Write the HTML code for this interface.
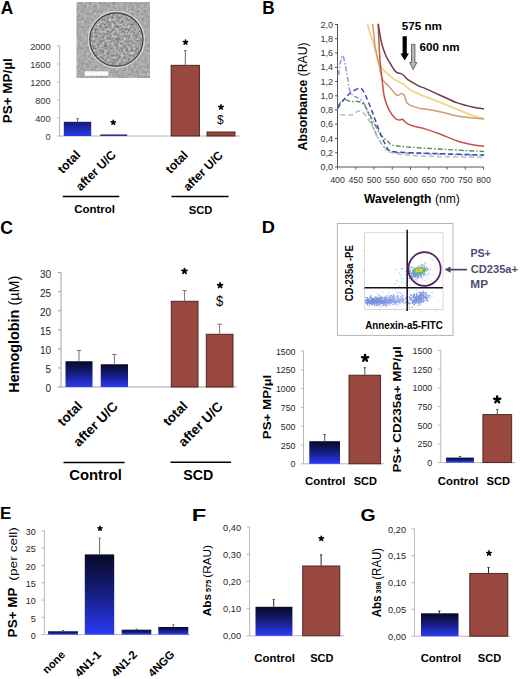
<!DOCTYPE html>
<html><head><meta charset="utf-8"><style>
html,body{margin:0;padding:0;background:#fff;width:520px;height:679px;overflow:hidden;}
svg{display:block;font-family:"Liberation Sans",sans-serif;}
</style></head><body>
<svg width="520" height="679" viewBox="0 0 520 679" font-family="Liberation Sans">
<defs>
<linearGradient id="gb" x1="0" y1="0" x2="0" y2="1"><stop offset="0" stop-color="#070926"/><stop offset="0.45" stop-color="#151c78"/><stop offset="1" stop-color="#2a3af6"/></linearGradient>
<linearGradient id="ga" x1="0" y1="0" x2="0" y2="1"><stop offset="0" stop-color="#141b70"/><stop offset="1" stop-color="#2a3aea"/></linearGradient>
<filter id="noise" x="0" y="0" width="100%" height="100%" color-interpolation-filters="sRGB"><feTurbulence type="fractalNoise" baseFrequency="0.38" numOctaves="2" seed="3"/><feColorMatrix type="matrix" values="0 0 0 0.28 0.52  0 0 0 0.28 0.52  0 0 0 0.28 0.52  0 0 0 0 1"/><feGaussianBlur stdDeviation="0.35"/></filter>
<filter id="noise2" x="0" y="0" width="100%" height="100%" color-interpolation-filters="sRGB"><feTurbulence type="fractalNoise" baseFrequency="0.42" numOctaves="2" seed="11"/><feColorMatrix type="matrix" values="0 0 0 0.6 0.33  0 0 0 0.6 0.33  0 0 0 0.6 0.33  0 0 0 0 1"/><feGaussianBlur stdDeviation="0.3"/></filter>
<clipPath id="mc"><rect x="76.5" y="2" width="73.5" height="76"/></clipPath>
<clipPath id="cc"><circle cx="116.4" cy="39.5" r="26"/></clipPath>
<filter id="blur1"><feGaussianBlur stdDeviation="1.1"/></filter>
<filter id="blur05"><feGaussianBlur stdDeviation="0.6"/></filter>
<filter id="blur03"><feGaussianBlur stdDeviation="0.35"/></filter>
</defs>
<rect width="520" height="679" fill="#fff"/>
<text transform="translate(0.72 13.80) scale(0.940 1)" fill="#000"><tspan font-size="18.33" font-weight="bold">A</tspan></text>
<text transform="translate(262.18 13.70) scale(0.946 1)" fill="#000"><tspan font-size="18.19" font-weight="bold">B</tspan></text>
<text transform="translate(0.20 233.75) scale(0.928 1)" fill="#000"><tspan font-size="18.93" font-weight="bold">C</tspan></text>
<text transform="translate(261.82 233.40) scale(1.056 1)" fill="#000"><tspan font-size="17.25" font-weight="bold">D</tspan></text>
<text transform="translate(-0.10 519.20) scale(1.047 1)" fill="#000"><tspan font-size="16.23" font-weight="bold">E</tspan></text>
<text transform="translate(191.66 520.50) scale(1.516 1)" fill="#000"><tspan font-size="15.65" font-weight="bold">F</tspan></text>
<text transform="translate(360.62 521.20) scale(1.181 1)" fill="#000"><tspan font-size="16.43" font-weight="bold">G</tspan></text>
<g clip-path="url(#mc)">
<rect x="76.5" y="2" width="73.5" height="76" filter="url(#noise)"/>
<circle cx="116.4" cy="39.5" r="27.9" fill="none" stroke="#d4d4d4" stroke-width="1.6"/>
<g clip-path="url(#cc)"><rect x="88" y="11" width="57" height="57" filter="url(#noise2)"/></g>
<circle cx="116.4" cy="39.5" r="26.6" fill="none" stroke="#3c3c3c" stroke-width="1.1"/>
<rect x="84.70" y="71.30" width="23.70" height="4.50" fill="#fafafa" stroke="none" stroke-width="1"/>
</g>
<line x1="59.60" y1="45.50" x2="59.60" y2="136.50" stroke="#b4b4b4" stroke-width="1"/>
<line x1="57.30" y1="46.00" x2="59.60" y2="46.00" stroke="#b4b4b4" stroke-width="1"/>
<text x="50.60" y="49.57" font-size="9.2" text-anchor="end" fill="#333">2000</text>
<line x1="57.30" y1="64.00" x2="59.60" y2="64.00" stroke="#b4b4b4" stroke-width="1"/>
<text x="50.60" y="67.57" font-size="9.2" text-anchor="end" fill="#333">1600</text>
<line x1="57.30" y1="82.00" x2="59.60" y2="82.00" stroke="#b4b4b4" stroke-width="1"/>
<text x="50.60" y="85.57" font-size="9.2" text-anchor="end" fill="#333">1200</text>
<line x1="57.30" y1="100.00" x2="59.60" y2="100.00" stroke="#b4b4b4" stroke-width="1"/>
<text x="50.60" y="103.57" font-size="9.2" text-anchor="end" fill="#333">800</text>
<line x1="57.30" y1="118.00" x2="59.60" y2="118.00" stroke="#b4b4b4" stroke-width="1"/>
<text x="50.60" y="121.57" font-size="9.2" text-anchor="end" fill="#333">400</text>
<line x1="57.30" y1="136.00" x2="59.60" y2="136.00" stroke="#b4b4b4" stroke-width="1"/>
<text x="50.60" y="139.57" font-size="9.2" text-anchor="end" fill="#333">0</text>
<line x1="59.60" y1="136.00" x2="240.00" y2="136.00" stroke="#b4b4b4" stroke-width="1"/>
<rect x="63.80" y="121.80" width="27.40" height="14.20" fill="url(#ga)" stroke="none" stroke-width="1"/>
<line x1="77.50" y1="118.60" x2="77.50" y2="121.80" stroke="#666" stroke-width="1"/>
<line x1="76.30" y1="118.60" x2="78.70" y2="118.60" stroke="#666" stroke-width="1"/>
<rect x="100.20" y="134.40" width="27.00" height="1.60" fill="#2a3499" stroke="none" stroke-width="1"/>
<path d="M113.30,122.40 L113.30,120.20 M113.30,122.40 L115.40,121.72 M113.30,122.40 L114.60,124.18 M113.30,122.40 L112.00,124.18 M113.30,122.40 L111.20,121.72 " stroke="#000" stroke-width="1.57" stroke-linecap="round" fill="none"/>
<rect x="171.10" y="65.30" width="28.30" height="70.70" fill="#99483f" stroke="#42201c" stroke-width="0.9"/>
<line x1="185.30" y1="50.50" x2="185.30" y2="65.30" stroke="#666" stroke-width="1"/>
<line x1="184.10" y1="50.50" x2="186.50" y2="50.50" stroke="#666" stroke-width="1"/>
<path d="M185.50,42.30 L185.50,40.10 M185.50,42.30 L187.60,41.62 M185.50,42.30 L186.80,44.08 M185.50,42.30 L184.20,44.08 M185.50,42.30 L183.40,41.62 " stroke="#000" stroke-width="1.57" stroke-linecap="round" fill="none"/>
<rect x="207.00" y="132.00" width="28.00" height="4.00" fill="#99483f" stroke="#42201c" stroke-width="0.9"/>
<path d="M221.00,107.10 L221.00,104.82 M221.00,107.10 L223.17,106.40 M221.00,107.10 L222.34,108.94 M221.00,107.10 L219.66,108.94 M221.00,107.10 L218.83,106.40 " stroke="#000" stroke-width="1.62" stroke-linecap="round" fill="none"/>
<text transform="translate(216.88 123.90) scale(0.885 1)" fill="#000"><tspan font-size="13.43" font-weight="normal">$</tspan></text>
<text transform="translate(62.63 174.13) rotate(-45)" fill="#000"><tspan font-size="12.37" font-weight="bold">total</tspan></text>
<text transform="translate(80.69 191.42) rotate(-45)" fill="#000"><tspan font-size="12.22" font-weight="bold">after U/C</tspan></text>
<text transform="translate(170.39 174.22) rotate(-45)" fill="#000"><tspan font-size="12.26" font-weight="bold">total</tspan></text>
<text transform="translate(188.16 191.63) rotate(-45)" fill="#000"><tspan font-size="12.08" font-weight="bold">after U/C</tspan></text>
<line x1="62.70" y1="196.50" x2="119.30" y2="196.50" stroke="#000" stroke-width="1.5"/>
<line x1="171.50" y1="196.50" x2="228.50" y2="196.50" stroke="#000" stroke-width="1.5"/>
<text transform="translate(74.24 213.20) scale(1.085 1)" fill="#000"><tspan font-size="10.57" font-weight="bold">Control</tspan></text>
<text transform="translate(188.86 213.50) scale(1.118 1)" fill="#000"><tspan font-size="10.00" font-weight="bold">SCD</tspan></text>
<text transform="translate(11.50 123.28) rotate(-90) scale(1.022 1)" fill="#000"><tspan font-size="13.19" font-weight="bold">PS+ MP/µl</tspan></text>
<line x1="337.50" y1="24.00" x2="337.50" y2="167.00" stroke="#555" stroke-width="1"/>
<line x1="335.00" y1="167.00" x2="337.50" y2="167.00" stroke="#555" stroke-width="1"/>
<text x="333.00" y="170.20" font-size="9" text-anchor="end" fill="#333">0,0</text>
<line x1="335.00" y1="152.75" x2="337.50" y2="152.75" stroke="#555" stroke-width="1"/>
<text x="333.00" y="155.95" font-size="9" text-anchor="end" fill="#333">0,2</text>
<line x1="335.00" y1="138.50" x2="337.50" y2="138.50" stroke="#555" stroke-width="1"/>
<text x="333.00" y="141.70" font-size="9" text-anchor="end" fill="#333">0,4</text>
<line x1="335.00" y1="124.25" x2="337.50" y2="124.25" stroke="#555" stroke-width="1"/>
<text x="333.00" y="127.45" font-size="9" text-anchor="end" fill="#333">0,6</text>
<line x1="335.00" y1="110.00" x2="337.50" y2="110.00" stroke="#555" stroke-width="1"/>
<text x="333.00" y="113.20" font-size="9" text-anchor="end" fill="#333">0,8</text>
<line x1="335.00" y1="95.75" x2="337.50" y2="95.75" stroke="#555" stroke-width="1"/>
<text x="333.00" y="98.95" font-size="9" text-anchor="end" fill="#333">1,0</text>
<line x1="335.00" y1="81.50" x2="337.50" y2="81.50" stroke="#555" stroke-width="1"/>
<text x="333.00" y="84.70" font-size="9" text-anchor="end" fill="#333">1,2</text>
<line x1="335.00" y1="67.25" x2="337.50" y2="67.25" stroke="#555" stroke-width="1"/>
<text x="333.00" y="70.45" font-size="9" text-anchor="end" fill="#333">1,4</text>
<line x1="335.00" y1="53.00" x2="337.50" y2="53.00" stroke="#555" stroke-width="1"/>
<text x="333.00" y="56.20" font-size="9" text-anchor="end" fill="#333">1,6</text>
<line x1="335.00" y1="38.75" x2="337.50" y2="38.75" stroke="#555" stroke-width="1"/>
<text x="333.00" y="41.95" font-size="9" text-anchor="end" fill="#333">1,8</text>
<line x1="335.00" y1="24.50" x2="337.50" y2="24.50" stroke="#555" stroke-width="1"/>
<text x="333.00" y="27.70" font-size="9" text-anchor="end" fill="#333">2,0</text>
<line x1="337.50" y1="167.00" x2="483.50" y2="167.00" stroke="#555" stroke-width="1"/>
<line x1="337.50" y1="167.00" x2="337.50" y2="169.50" stroke="#555" stroke-width="1"/>
<text x="337.50" y="182.80" font-size="8.8" text-anchor="middle" fill="#333">400</text>
<line x1="355.75" y1="167.00" x2="355.75" y2="169.50" stroke="#555" stroke-width="1"/>
<text x="355.75" y="182.80" font-size="8.8" text-anchor="middle" fill="#333">450</text>
<line x1="374.00" y1="167.00" x2="374.00" y2="169.50" stroke="#555" stroke-width="1"/>
<text x="374.00" y="182.80" font-size="8.8" text-anchor="middle" fill="#333">500</text>
<line x1="392.25" y1="167.00" x2="392.25" y2="169.50" stroke="#555" stroke-width="1"/>
<text x="392.25" y="182.80" font-size="8.8" text-anchor="middle" fill="#333">550</text>
<line x1="410.50" y1="167.00" x2="410.50" y2="169.50" stroke="#555" stroke-width="1"/>
<text x="410.50" y="182.80" font-size="8.8" text-anchor="middle" fill="#333">600</text>
<line x1="428.75" y1="167.00" x2="428.75" y2="169.50" stroke="#555" stroke-width="1"/>
<text x="428.75" y="182.80" font-size="8.8" text-anchor="middle" fill="#333">650</text>
<line x1="447.00" y1="167.00" x2="447.00" y2="169.50" stroke="#555" stroke-width="1"/>
<text x="447.00" y="182.80" font-size="8.8" text-anchor="middle" fill="#333">700</text>
<line x1="465.25" y1="167.00" x2="465.25" y2="169.50" stroke="#555" stroke-width="1"/>
<text x="465.25" y="182.80" font-size="8.8" text-anchor="middle" fill="#333">750</text>
<line x1="483.50" y1="167.00" x2="483.50" y2="169.50" stroke="#555" stroke-width="1"/>
<text x="483.50" y="182.80" font-size="8.8" text-anchor="middle" fill="#333">800</text>
<text transform="translate(364.00 203.00) scale(0.961 1)" fill="#000"><tspan font-size="12.61" font-weight="bold">Wavelength</tspan><tspan font-size="12.61" font-weight="normal"> (nm)</tspan></text>
<text transform="translate(306.80 150.41) rotate(-90) scale(0.993 1)" fill="#000"><tspan font-size="12.32" font-weight="bold">Absorbance</tspan><tspan font-size="12.32" font-weight="normal"> (RAU)</tspan></text>
<path d="M367.3,23.8 C367.9,25.8 369.9,32.5 371.0,36.0 C372.1,39.5 372.9,41.8 373.8,45.0 C374.7,48.2 375.7,52.0 376.5,55.0 C377.3,58.0 377.9,60.9 378.6,63.0 C379.4,65.1 380.1,66.2 381.0,67.5 C381.9,68.8 382.1,68.8 384.0,70.5 C385.9,72.2 389.5,75.8 392.1,77.7 C394.7,79.6 397.5,81.0 399.5,82.1 C401.5,83.2 402.2,83.1 403.9,84.3 C405.6,85.5 407.4,87.9 409.8,89.5 C412.2,91.1 416.1,92.7 418.6,93.9 C421.1,95.1 421.2,95.0 425.0,96.5 C428.8,98.0 435.8,100.8 441.2,102.9 C446.6,105.1 452.0,107.2 457.4,109.4 C462.8,111.6 469.2,114.4 473.6,115.9 C478.1,117.5 482.4,118.2 484.1,118.7" fill="none" stroke="#eed88a" stroke-width="1.9" stroke-linejoin="round" opacity="1"/>
<path d="M372.5,23.8 C372.8,25.8 373.6,32.1 374.0,36.0 C374.4,39.9 374.6,43.3 375.2,47.0 C375.8,50.7 376.8,54.7 377.5,58.0 C378.2,61.3 378.9,64.2 379.5,67.0 C380.1,69.8 380.6,72.7 381.2,75.0 C381.8,77.3 382.0,78.7 383.3,80.6 C384.6,82.5 387.2,84.3 389.2,86.5 C391.2,88.7 393.6,92.4 395.1,93.9 C396.6,95.4 396.9,95.5 398.0,95.4 C399.1,95.4 400.6,93.5 401.7,93.6 C402.8,93.7 403.7,94.6 404.6,96.1 C405.5,97.6 405.5,101.1 406.9,102.8 C408.3,104.5 410.4,105.4 412.8,106.4 C415.2,107.4 419.6,108.3 421.6,108.7 C423.6,109.1 421.7,108.5 425.0,109.0 C428.3,109.5 435.8,110.8 441.2,111.9 C446.6,113.1 452.0,114.9 457.4,115.9 C462.8,116.9 469.2,117.5 473.6,118.0 C478.1,118.5 482.4,118.9 484.1,119.1" fill="none" stroke="#d39a70" stroke-width="1.5" stroke-linejoin="round" opacity="1"/>
<path d="M378.2,23.8 C378.4,27.3 378.8,39.0 379.1,45.0 C379.4,51.0 379.6,55.0 380.0,60.0 C380.4,65.0 381.1,70.8 381.5,75.0 C381.9,79.2 382.2,81.1 382.7,85.0 C383.2,88.9 383.6,94.1 384.7,98.3 C385.8,102.5 387.5,106.8 389.2,110.1 C390.9,113.4 393.4,116.5 395.1,118.2 C396.8,119.9 398.3,119.9 399.5,120.1 C400.7,120.3 401.2,118.8 402.4,119.3 C403.6,119.8 404.9,122.2 406.9,123.4 C408.9,124.6 411.2,125.4 414.2,126.3 C417.2,127.2 420.5,127.5 425.0,128.9 C429.5,130.3 435.8,132.5 441.2,134.5 C446.6,136.5 452.0,139.2 457.4,141.0 C462.8,142.8 469.2,144.2 473.6,145.1 C478.1,146.0 482.4,146.0 484.1,146.2" fill="none" stroke="#c4524a" stroke-width="1.5" stroke-linejoin="round" opacity="1"/>
<path d="M378.2,23.8 C378.5,25.7 379.4,31.5 380.0,35.0 C380.6,38.5 381.1,41.5 382.1,45.0 C383.1,48.5 384.7,53.0 386.0,56.0 C387.3,59.0 388.6,60.6 390.0,63.0 C391.4,65.4 393.3,68.7 394.5,70.3 C395.7,71.9 396.2,72.2 397.3,72.8 C398.4,73.3 399.9,73.1 401.0,73.6 C402.1,74.0 402.7,74.5 403.9,75.5 C405.1,76.5 405.9,78.2 408.3,79.9 C410.8,81.6 415.8,84.4 418.6,85.8 C421.4,87.2 421.2,86.8 425.0,88.4 C428.8,90.1 435.8,93.3 441.2,95.7 C446.6,98.1 452.0,101.0 457.4,102.9 C462.8,104.8 469.2,106.3 473.6,107.3 C478.1,108.3 482.4,108.6 484.1,108.9" fill="none" stroke="#723a40" stroke-width="1.5" stroke-linejoin="round" opacity="1"/>
<path d="M338.5,75.0 C338.8,72.8 339.8,65.2 340.5,62.0 C341.2,58.8 342.1,55.3 342.9,55.6 C343.6,55.9 344.2,60.5 345.0,64.0 C345.8,67.5 346.6,72.3 347.4,76.8 C348.2,81.3 348.8,87.7 350.0,90.9 C351.2,94.1 352.7,94.9 354.4,96.2 C356.1,97.5 358.2,97.5 360.0,99.0 C361.8,100.5 363.3,101.7 365.0,105.0 C366.7,108.3 368.2,113.8 370.3,119.1 C372.4,124.4 375.0,132.1 377.4,136.8 C379.8,141.5 382.3,145.0 384.4,147.3 C386.4,149.7 387.9,150.0 389.7,150.9 C391.5,151.8 389.9,152.1 395.0,152.5 C400.1,152.9 410.8,153.2 420.0,153.5 C429.2,153.8 439.3,154.2 450.0,154.5 C460.7,154.8 478.3,155.3 484.0,155.5" fill="none" stroke="#8c9ad6" stroke-width="1.5" stroke-dasharray="5,2,1.5,2" stroke-linejoin="round" opacity="1"/>
<path d="M340.3,114.7 C342.4,114.7 349.7,115.3 352.6,114.7 C355.5,114.1 356.1,111.5 357.9,111.2 C359.7,110.9 361.1,111.0 363.2,112.9 C365.3,114.8 367.9,118.6 370.3,122.6 C372.7,126.6 375.0,132.7 377.4,136.8 C379.8,140.9 382.0,144.7 384.4,147.3 C386.8,149.9 385.6,151.2 391.5,152.6 C397.4,154.0 404.6,155.2 420.0,156.0 C435.4,156.8 473.3,157.2 484.0,157.5" fill="none" stroke="#b4c4a4" stroke-width="1.5" stroke-dasharray="5,3" stroke-linejoin="round" opacity="1"/>
<path d="M337.6,106.0 C338.6,105.0 341.6,100.5 343.8,99.7 C346.0,99.0 348.5,101.2 350.9,101.5 C353.2,101.8 355.8,101.1 357.9,101.5 C359.9,101.9 361.4,102.3 363.2,104.1 C365.0,105.9 366.7,109.0 368.5,112.1 C370.3,115.2 371.7,118.8 373.8,122.6 C375.9,126.4 378.5,131.9 380.9,135.0 C383.2,138.1 385.6,139.4 387.9,141.2 C390.2,143.0 387.9,144.4 394.9,145.6 C401.9,146.8 415.1,147.5 430.0,148.5 C444.9,149.5 475.0,151.0 484.0,151.5" fill="none" stroke="#5a8a5a" stroke-width="1.4" stroke-dasharray="5,2,1.5,2" stroke-linejoin="round" opacity="1"/>
<path d="M337.6,108.5 C338.6,107.0 341.6,102.4 343.8,99.7 C346.0,97.0 348.2,94.5 350.9,92.6 C353.5,90.7 357.5,88.2 359.7,88.2 C361.9,88.2 362.3,89.5 364.1,92.6 C365.9,95.7 368.4,102.1 370.3,106.8 C372.2,111.5 373.8,116.2 375.6,120.9 C377.4,125.6 379.1,130.9 380.9,135.0 C382.7,139.1 384.3,142.8 386.2,145.6 C388.1,148.3 386.4,150.3 392.0,151.5 C397.6,152.7 410.3,152.6 420.0,153.0 C429.7,153.4 439.3,153.7 450.0,154.0 C460.7,154.3 478.3,154.8 484.0,155.0" fill="none" stroke="#3a4ab8" stroke-width="1.5" stroke-dasharray="5,3" stroke-linejoin="round" opacity="1"/>
<text transform="translate(401.65 29.90) scale(1.092 1)" fill="#000"><tspan font-size="10.72" font-weight="bold">575 nm</tspan></text>
<text transform="translate(419.49 50.90) scale(1.072 1)" fill="#000"><tspan font-size="10.86" font-weight="bold">600 nm</tspan></text>
<path d="M402.6,36.3 L406.8,36.3 L406.8,53.5 L408.9,53.5 L404.7,60.6 L400.5,53.5 L402.6,53.5 Z" fill="#000"/>
<path d="M411.5,44.4 L414.9,44.4 L414.9,62.5 L416.8,62.5 L413.2,69.5 L409.6,62.5 L411.5,62.5 Z" fill="#b8b8b8" stroke="#4a4a4a" stroke-width="0.8"/>
<line x1="61.00" y1="272.50" x2="61.00" y2="387.00" stroke="#a0a0a0" stroke-width="1"/>
<line x1="57.80" y1="272.60" x2="61.00" y2="272.60" stroke="#a0a0a0" stroke-width="1"/>
<text x="51.00" y="277.55" font-size="10" text-anchor="end" fill="#222">30</text>
<line x1="57.80" y1="291.67" x2="61.00" y2="291.67" stroke="#a0a0a0" stroke-width="1"/>
<text x="51.00" y="296.62" font-size="10" text-anchor="end" fill="#222">25</text>
<line x1="57.80" y1="310.74" x2="61.00" y2="310.74" stroke="#a0a0a0" stroke-width="1"/>
<text x="51.00" y="315.69" font-size="10" text-anchor="end" fill="#222">20</text>
<line x1="57.80" y1="329.81" x2="61.00" y2="329.81" stroke="#a0a0a0" stroke-width="1"/>
<text x="51.00" y="334.76" font-size="10" text-anchor="end" fill="#222">15</text>
<line x1="57.80" y1="348.88" x2="61.00" y2="348.88" stroke="#a0a0a0" stroke-width="1"/>
<text x="51.00" y="353.83" font-size="10" text-anchor="end" fill="#222">10</text>
<line x1="57.80" y1="367.95" x2="61.00" y2="367.95" stroke="#a0a0a0" stroke-width="1"/>
<text x="51.00" y="372.90" font-size="10" text-anchor="end" fill="#222">5</text>
<line x1="57.80" y1="387.02" x2="61.00" y2="387.02" stroke="#a0a0a0" stroke-width="1"/>
<text x="51.00" y="391.97" font-size="10" text-anchor="end" fill="#222">0</text>
<line x1="61.00" y1="387.00" x2="236.50" y2="387.00" stroke="#a0a0a0" stroke-width="1"/>
<rect x="65.50" y="361.25" width="27.00" height="25.75" fill="url(#gb)" stroke="none" stroke-width="1"/>
<line x1="79.00" y1="350.50" x2="79.00" y2="361.25" stroke="#777" stroke-width="1"/>
<line x1="76.80" y1="350.50" x2="81.20" y2="350.50" stroke="#777" stroke-width="1"/>
<rect x="100.75" y="364.25" width="27.25" height="22.75" fill="url(#gb)" stroke="none" stroke-width="1"/>
<line x1="114.40" y1="354.50" x2="114.40" y2="364.25" stroke="#777" stroke-width="1"/>
<line x1="112.20" y1="354.50" x2="116.60" y2="354.50" stroke="#777" stroke-width="1"/>
<rect x="171.25" y="301.25" width="26.75" height="85.75" fill="#99483f" stroke="#42201c" stroke-width="0.9"/>
<line x1="184.60" y1="290.60" x2="184.60" y2="301.25" stroke="#777" stroke-width="1"/>
<line x1="182.40" y1="290.60" x2="186.80" y2="290.60" stroke="#777" stroke-width="1"/>
<rect x="206.25" y="334.25" width="26.75" height="52.75" fill="#99483f" stroke="#42201c" stroke-width="0.9"/>
<line x1="219.60" y1="324.25" x2="219.60" y2="334.25" stroke="#777" stroke-width="1"/>
<line x1="217.40" y1="324.25" x2="221.80" y2="324.25" stroke="#777" stroke-width="1"/>
<path d="M184.50,271.20 L184.50,268.62 M184.50,271.20 L186.96,270.40 M184.50,271.20 L186.02,273.29 M184.50,271.20 L182.98,273.29 M184.50,271.20 L182.04,270.40 " stroke="#000" stroke-width="1.84" stroke-linecap="round" fill="none"/>
<path d="M220.10,285.50 L220.10,282.99 M220.10,285.50 L222.49,284.72 M220.10,285.50 L221.57,287.53 M220.10,285.50 L218.63,287.53 M220.10,285.50 L217.71,284.72 " stroke="#000" stroke-width="1.78" stroke-linecap="round" fill="none"/>
<text transform="translate(216.07 305.60) scale(0.844 1)" fill="#000"><tspan font-size="15.43" font-weight="normal">$</tspan></text>
<text transform="translate(63.11 426.92) rotate(-45)" fill="#000"><tspan font-size="13.44" font-weight="bold">total</tspan></text>
<text transform="translate(78.82 447.40) rotate(-45)" fill="#000"><tspan font-size="13.57" font-weight="bold">after U/C</tspan></text>
<text transform="translate(168.44 426.78) rotate(-45)" fill="#000"><tspan font-size="13.30" font-weight="bold">total</tspan></text>
<text transform="translate(183.82 447.40) rotate(-45)" fill="#000"><tspan font-size="13.57" font-weight="bold">after U/C</tspan></text>
<line x1="63.50" y1="462.50" x2="124.60" y2="462.50" stroke="#000" stroke-width="1.6"/>
<line x1="170.50" y1="462.30" x2="231.10" y2="462.30" stroke="#000" stroke-width="1.6"/>
<text transform="translate(69.21 479.80) scale(1.036 1)" fill="#000"><tspan font-size="14.29" font-weight="bold">Control</tspan></text>
<text transform="translate(183.37 479.90) scale(1.015 1)" fill="#000"><tspan font-size="14.00" font-weight="bold">SCD</tspan></text>
<text transform="translate(18.90 392.74) rotate(-90) scale(0.965 1)" fill="#000"><tspan font-size="14.93" font-weight="bold">Hemoglobin</tspan><tspan font-size="14.93" font-weight="normal"> (µM)</tspan></text>
<rect x="337.40" y="223.50" width="115.60" height="111.90" fill="#fff" stroke="#b4b4b4" stroke-width="1"/>
<rect x="364.60" y="232.70" width="78.40" height="76.80" fill="#fff" stroke="#cfcfcf" stroke-width="0.8"/>
<line x1="362.60" y1="251.00" x2="364.60" y2="251.00" stroke="#bbb" stroke-width="0.6"/>
<line x1="362.60" y1="270.00" x2="364.60" y2="270.00" stroke="#bbb" stroke-width="0.6"/>
<line x1="362.60" y1="289.00" x2="364.60" y2="289.00" stroke="#bbb" stroke-width="0.6"/>
<line x1="380.00" y1="309.50" x2="380.00" y2="311.30" stroke="#bbb" stroke-width="0.6"/>
<line x1="395.00" y1="309.50" x2="395.00" y2="311.30" stroke="#bbb" stroke-width="0.6"/>
<line x1="420.00" y1="309.50" x2="420.00" y2="311.30" stroke="#bbb" stroke-width="0.6"/>
<line x1="435.00" y1="309.50" x2="435.00" y2="311.30" stroke="#bbb" stroke-width="0.6"/>
<g opacity="0.7" filter="url(#blur03)"><circle cx="378.7" cy="301.8" r="0.65" fill="#4a6ad8"/><circle cx="379.0" cy="300.2" r="0.65" fill="#4a6ad8"/><circle cx="372.6" cy="300.4" r="0.65" fill="#4a6ad8"/><circle cx="391.0" cy="301.6" r="0.65" fill="#4a6ad8"/><circle cx="390.3" cy="301.3" r="0.65" fill="#4a6ad8"/><circle cx="384.6" cy="301.2" r="0.65" fill="#4a6ad8"/><circle cx="366.0" cy="302.5" r="0.65" fill="#4a6ad8"/><circle cx="385.6" cy="301.8" r="0.65" fill="#4a6ad8"/><circle cx="365.8" cy="297.3" r="0.65" fill="#4a6ad8"/><circle cx="373.0" cy="299.9" r="0.65" fill="#4a6ad8"/><circle cx="383.7" cy="300.7" r="0.65" fill="#4a6ad8"/><circle cx="385.7" cy="299.5" r="0.65" fill="#4a6ad8"/><circle cx="383.8" cy="301.6" r="0.65" fill="#4a6ad8"/><circle cx="375.0" cy="304.2" r="0.65" fill="#4a6ad8"/><circle cx="386.0" cy="303.2" r="0.65" fill="#4a6ad8"/><circle cx="375.4" cy="299.3" r="0.65" fill="#4a6ad8"/><circle cx="377.9" cy="300.6" r="0.65" fill="#4a6ad8"/><circle cx="386.7" cy="301.3" r="0.65" fill="#4a6ad8"/><circle cx="377.0" cy="298.9" r="0.65" fill="#4a6ad8"/><circle cx="376.3" cy="303.2" r="0.65" fill="#4a6ad8"/><circle cx="373.7" cy="301.3" r="0.65" fill="#4a6ad8"/><circle cx="384.8" cy="297.8" r="0.65" fill="#4a6ad8"/><circle cx="381.4" cy="303.4" r="0.65" fill="#4a6ad8"/><circle cx="380.0" cy="299.2" r="0.65" fill="#4a6ad8"/><circle cx="385.5" cy="300.7" r="0.65" fill="#4a6ad8"/><circle cx="367.8" cy="302.5" r="0.65" fill="#4a6ad8"/><circle cx="387.0" cy="302.7" r="0.65" fill="#4a6ad8"/><circle cx="394.0" cy="301.5" r="0.65" fill="#4a6ad8"/><circle cx="382.1" cy="298.2" r="0.65" fill="#4a6ad8"/><circle cx="386.5" cy="299.6" r="0.65" fill="#4a6ad8"/><circle cx="376.9" cy="298.3" r="0.65" fill="#4a6ad8"/><circle cx="372.3" cy="299.7" r="0.65" fill="#4a6ad8"/><circle cx="392.6" cy="296.7" r="0.65" fill="#4a6ad8"/><circle cx="367.9" cy="301.3" r="0.65" fill="#4a6ad8"/><circle cx="394.0" cy="302.0" r="0.65" fill="#4a6ad8"/><circle cx="384.2" cy="299.3" r="0.65" fill="#4a6ad8"/><circle cx="370.9" cy="302.8" r="0.65" fill="#4a6ad8"/><circle cx="390.9" cy="301.1" r="0.65" fill="#4a6ad8"/><circle cx="383.2" cy="301.7" r="0.65" fill="#4a6ad8"/><circle cx="395.3" cy="302.0" r="0.65" fill="#4a6ad8"/><circle cx="385.7" cy="301.9" r="0.65" fill="#4a6ad8"/><circle cx="366.9" cy="303.4" r="0.65" fill="#4a6ad8"/><circle cx="389.6" cy="301.9" r="0.65" fill="#4a6ad8"/><circle cx="388.6" cy="297.2" r="0.65" fill="#4a6ad8"/><circle cx="379.3" cy="302.8" r="0.65" fill="#4a6ad8"/><circle cx="369.2" cy="304.0" r="0.65" fill="#4a6ad8"/><circle cx="386.0" cy="300.5" r="0.65" fill="#4a6ad8"/><circle cx="383.9" cy="302.1" r="0.65" fill="#4a6ad8"/><circle cx="382.1" cy="303.1" r="0.65" fill="#4a6ad8"/><circle cx="375.0" cy="300.0" r="0.65" fill="#4a6ad8"/><circle cx="390.4" cy="300.9" r="0.65" fill="#4a6ad8"/><circle cx="373.1" cy="302.7" r="0.65" fill="#4a6ad8"/><circle cx="394.2" cy="299.9" r="0.65" fill="#4a6ad8"/><circle cx="368.6" cy="300.5" r="0.65" fill="#4a6ad8"/><circle cx="379.7" cy="300.2" r="0.65" fill="#4a6ad8"/><circle cx="393.6" cy="298.7" r="0.65" fill="#4a6ad8"/><circle cx="392.3" cy="298.3" r="0.65" fill="#4a6ad8"/><circle cx="373.9" cy="302.1" r="0.65" fill="#4a6ad8"/><circle cx="391.2" cy="302.5" r="0.65" fill="#4a6ad8"/><circle cx="384.1" cy="301.1" r="0.65" fill="#4a6ad8"/><circle cx="382.4" cy="302.0" r="0.65" fill="#4a6ad8"/><circle cx="379.4" cy="301.4" r="0.65" fill="#4a6ad8"/><circle cx="386.2" cy="300.8" r="0.65" fill="#4a6ad8"/><circle cx="387.9" cy="301.9" r="0.65" fill="#4a6ad8"/><circle cx="399.1" cy="301.4" r="0.65" fill="#4a6ad8"/><circle cx="377.2" cy="300.1" r="0.65" fill="#4a6ad8"/><circle cx="380.9" cy="302.6" r="0.65" fill="#4a6ad8"/><circle cx="378.0" cy="301.6" r="0.65" fill="#4a6ad8"/><circle cx="397.5" cy="295.7" r="0.65" fill="#4a6ad8"/><circle cx="370.9" cy="301.3" r="0.65" fill="#4a6ad8"/><circle cx="384.6" cy="301.3" r="0.65" fill="#4a6ad8"/><circle cx="377.1" cy="302.1" r="0.65" fill="#4a6ad8"/><circle cx="383.5" cy="299.8" r="0.65" fill="#4a6ad8"/><circle cx="402.9" cy="301.5" r="0.65" fill="#4a6ad8"/><circle cx="376.0" cy="300.6" r="0.65" fill="#4a6ad8"/><circle cx="379.0" cy="300.7" r="0.65" fill="#4a6ad8"/><circle cx="390.1" cy="298.5" r="0.65" fill="#4a6ad8"/><circle cx="380.4" cy="302.7" r="0.65" fill="#4a6ad8"/><circle cx="388.7" cy="303.8" r="0.65" fill="#4a6ad8"/><circle cx="365.7" cy="300.1" r="0.65" fill="#4a6ad8"/><circle cx="377.9" cy="302.0" r="0.65" fill="#4a6ad8"/><circle cx="390.8" cy="295.4" r="0.65" fill="#4a6ad8"/><circle cx="390.8" cy="297.9" r="0.65" fill="#4a6ad8"/><circle cx="387.1" cy="297.8" r="0.65" fill="#4a6ad8"/><circle cx="382.6" cy="303.2" r="0.65" fill="#4a6ad8"/><circle cx="379.7" cy="301.2" r="0.65" fill="#4a6ad8"/><circle cx="388.2" cy="301.1" r="0.65" fill="#4a6ad8"/><circle cx="380.2" cy="303.9" r="0.65" fill="#4a6ad8"/><circle cx="390.4" cy="300.2" r="0.65" fill="#4a6ad8"/><circle cx="405.7" cy="298.5" r="0.65" fill="#4a6ad8"/><circle cx="389.2" cy="300.3" r="0.65" fill="#4a6ad8"/><circle cx="382.2" cy="302.2" r="0.65" fill="#4a6ad8"/><circle cx="383.0" cy="302.1" r="0.65" fill="#4a6ad8"/><circle cx="367.3" cy="297.8" r="0.65" fill="#4a6ad8"/><circle cx="386.5" cy="298.9" r="0.65" fill="#4a6ad8"/><circle cx="371.8" cy="297.9" r="0.65" fill="#4a6ad8"/><circle cx="392.4" cy="302.3" r="0.65" fill="#4a6ad8"/><circle cx="394.3" cy="298.9" r="0.65" fill="#4a6ad8"/><circle cx="381.0" cy="298.5" r="0.65" fill="#4a6ad8"/><circle cx="387.9" cy="304.0" r="0.65" fill="#4a6ad8"/><circle cx="373.0" cy="303.9" r="0.65" fill="#4a6ad8"/><circle cx="389.9" cy="300.4" r="0.65" fill="#4a6ad8"/><circle cx="380.1" cy="299.6" r="0.65" fill="#4a6ad8"/><circle cx="384.6" cy="301.6" r="0.65" fill="#4a6ad8"/><circle cx="394.5" cy="298.8" r="0.65" fill="#4a6ad8"/><circle cx="391.2" cy="303.8" r="0.65" fill="#4a6ad8"/><circle cx="394.1" cy="300.4" r="0.65" fill="#4a6ad8"/><circle cx="374.3" cy="302.8" r="0.65" fill="#4a6ad8"/><circle cx="382.0" cy="301.0" r="0.65" fill="#4a6ad8"/><circle cx="393.8" cy="300.3" r="0.65" fill="#4a6ad8"/><circle cx="383.9" cy="299.6" r="0.65" fill="#4a6ad8"/><circle cx="380.9" cy="302.5" r="0.65" fill="#4a6ad8"/><circle cx="381.7" cy="303.5" r="0.65" fill="#4a6ad8"/><circle cx="380.4" cy="302.9" r="0.65" fill="#4a6ad8"/><circle cx="394.4" cy="304.0" r="0.65" fill="#4a6ad8"/><circle cx="375.0" cy="302.6" r="0.65" fill="#4a6ad8"/><circle cx="369.9" cy="300.8" r="0.65" fill="#4a6ad8"/><circle cx="379.3" cy="300.7" r="0.65" fill="#4a6ad8"/><circle cx="375.7" cy="301.3" r="0.65" fill="#4a6ad8"/><circle cx="397.1" cy="300.9" r="0.65" fill="#4a6ad8"/><circle cx="385.8" cy="302.8" r="0.65" fill="#4a6ad8"/><circle cx="379.2" cy="298.3" r="0.65" fill="#4a6ad8"/><circle cx="376.0" cy="302.9" r="0.65" fill="#4a6ad8"/><circle cx="366.2" cy="299.6" r="0.65" fill="#4a6ad8"/><circle cx="390.1" cy="302.4" r="0.65" fill="#4a6ad8"/><circle cx="381.1" cy="302.4" r="0.65" fill="#4a6ad8"/><circle cx="382.5" cy="298.4" r="0.65" fill="#4a6ad8"/><circle cx="366.9" cy="299.5" r="0.65" fill="#4a6ad8"/><circle cx="389.3" cy="299.7" r="0.65" fill="#4a6ad8"/><circle cx="372.9" cy="299.3" r="0.65" fill="#4a6ad8"/><circle cx="367.2" cy="300.6" r="0.65" fill="#4a6ad8"/><circle cx="370.4" cy="301.5" r="0.65" fill="#4a6ad8"/><circle cx="375.2" cy="296.9" r="0.65" fill="#4a6ad8"/><circle cx="387.5" cy="300.2" r="0.65" fill="#4a6ad8"/><circle cx="383.6" cy="299.9" r="0.65" fill="#4a6ad8"/><circle cx="388.0" cy="302.3" r="0.65" fill="#4a6ad8"/><circle cx="387.0" cy="301.5" r="0.65" fill="#4a6ad8"/><circle cx="393.0" cy="302.1" r="0.65" fill="#4a6ad8"/><circle cx="385.1" cy="296.6" r="0.65" fill="#4a6ad8"/><circle cx="389.1" cy="303.4" r="0.65" fill="#4a6ad8"/><circle cx="378.3" cy="299.9" r="0.65" fill="#4a6ad8"/><circle cx="398.5" cy="297.3" r="0.65" fill="#4a6ad8"/><circle cx="385.2" cy="305.6" r="0.65" fill="#4a6ad8"/><circle cx="372.7" cy="302.2" r="0.65" fill="#4a6ad8"/><circle cx="398.0" cy="300.6" r="0.65" fill="#4a6ad8"/><circle cx="386.1" cy="302.6" r="0.65" fill="#4a6ad8"/><circle cx="372.8" cy="300.6" r="0.65" fill="#4a6ad8"/><circle cx="383.6" cy="302.5" r="0.65" fill="#4a6ad8"/><circle cx="380.7" cy="300.4" r="0.65" fill="#4a6ad8"/><circle cx="371.9" cy="300.1" r="0.65" fill="#4a6ad8"/><circle cx="389.0" cy="301.0" r="0.65" fill="#4a6ad8"/><circle cx="373.3" cy="299.1" r="0.65" fill="#4a6ad8"/><circle cx="405.0" cy="303.1" r="0.65" fill="#4a6ad8"/><circle cx="386.7" cy="295.6" r="0.65" fill="#4a6ad8"/><circle cx="386.6" cy="301.8" r="0.65" fill="#4a6ad8"/><circle cx="396.2" cy="301.7" r="0.65" fill="#4a6ad8"/><circle cx="380.4" cy="301.8" r="0.65" fill="#4a6ad8"/><circle cx="383.9" cy="299.4" r="0.65" fill="#4a6ad8"/><circle cx="392.9" cy="304.4" r="0.65" fill="#4a6ad8"/><circle cx="368.4" cy="299.5" r="0.65" fill="#4a6ad8"/><circle cx="383.6" cy="301.2" r="0.65" fill="#4a6ad8"/><circle cx="377.4" cy="298.9" r="0.65" fill="#4a6ad8"/><circle cx="400.1" cy="302.9" r="0.65" fill="#4a6ad8"/><circle cx="370.3" cy="298.1" r="0.65" fill="#4a6ad8"/><circle cx="396.3" cy="302.8" r="0.65" fill="#4a6ad8"/><circle cx="397.4" cy="302.4" r="0.65" fill="#4a6ad8"/><circle cx="373.2" cy="301.3" r="0.65" fill="#4a6ad8"/><circle cx="380.5" cy="301.8" r="0.65" fill="#4a6ad8"/><circle cx="374.5" cy="300.6" r="0.65" fill="#4a6ad8"/><circle cx="385.1" cy="301.6" r="0.65" fill="#4a6ad8"/><circle cx="386.7" cy="301.2" r="0.65" fill="#4a6ad8"/><circle cx="378.1" cy="302.4" r="0.65" fill="#4a6ad8"/><circle cx="381.4" cy="299.1" r="0.65" fill="#4a6ad8"/><circle cx="375.4" cy="300.8" r="0.65" fill="#4a6ad8"/><circle cx="380.0" cy="301.1" r="0.65" fill="#4a6ad8"/><circle cx="381.0" cy="301.2" r="0.65" fill="#4a6ad8"/><circle cx="379.8" cy="298.3" r="0.65" fill="#4a6ad8"/><circle cx="384.8" cy="302.9" r="0.65" fill="#4a6ad8"/><circle cx="384.9" cy="300.4" r="0.65" fill="#4a6ad8"/><circle cx="385.0" cy="298.9" r="0.65" fill="#4a6ad8"/><circle cx="372.6" cy="302.3" r="0.65" fill="#4a6ad8"/><circle cx="371.2" cy="295.5" r="0.65" fill="#4a6ad8"/><circle cx="371.6" cy="304.0" r="0.65" fill="#4a6ad8"/><circle cx="377.6" cy="298.1" r="0.65" fill="#4a6ad8"/><circle cx="374.1" cy="301.8" r="0.65" fill="#4a6ad8"/><circle cx="385.5" cy="301.2" r="0.65" fill="#4a6ad8"/><circle cx="394.4" cy="302.2" r="0.65" fill="#4a6ad8"/><circle cx="380.8" cy="302.0" r="0.65" fill="#4a6ad8"/><circle cx="395.9" cy="302.7" r="0.65" fill="#4a6ad8"/><circle cx="390.2" cy="298.6" r="0.65" fill="#4a6ad8"/><circle cx="379.7" cy="302.3" r="0.65" fill="#4a6ad8"/><circle cx="378.3" cy="302.9" r="0.65" fill="#4a6ad8"/><circle cx="386.4" cy="302.6" r="0.65" fill="#4a6ad8"/><circle cx="379.1" cy="305.9" r="0.65" fill="#4a6ad8"/><circle cx="392.2" cy="300.4" r="0.65" fill="#4a6ad8"/><circle cx="381.8" cy="306.0" r="0.65" fill="#4a6ad8"/><circle cx="377.9" cy="302.5" r="0.65" fill="#4a6ad8"/><circle cx="389.8" cy="300.8" r="0.65" fill="#4a6ad8"/><circle cx="370.5" cy="301.2" r="0.65" fill="#4a6ad8"/><circle cx="384.2" cy="303.1" r="0.65" fill="#4a6ad8"/><circle cx="388.0" cy="300.8" r="0.65" fill="#4a6ad8"/><circle cx="388.7" cy="301.9" r="0.65" fill="#4a6ad8"/><circle cx="382.9" cy="300.9" r="0.65" fill="#4a6ad8"/><circle cx="378.8" cy="302.2" r="0.65" fill="#4a6ad8"/><circle cx="371.5" cy="299.5" r="0.65" fill="#4a6ad8"/><circle cx="381.0" cy="297.9" r="0.65" fill="#4a6ad8"/><circle cx="377.1" cy="296.8" r="0.65" fill="#4a6ad8"/><circle cx="374.9" cy="301.9" r="0.65" fill="#4a6ad8"/><circle cx="386.1" cy="300.7" r="0.65" fill="#4a6ad8"/><circle cx="378.9" cy="298.0" r="0.65" fill="#4a6ad8"/><circle cx="397.5" cy="301.8" r="0.65" fill="#4a6ad8"/><circle cx="390.8" cy="299.0" r="0.65" fill="#4a6ad8"/><circle cx="379.3" cy="297.2" r="0.65" fill="#4a6ad8"/><circle cx="388.0" cy="302.7" r="0.65" fill="#4a6ad8"/><circle cx="386.7" cy="297.3" r="0.65" fill="#4a6ad8"/><circle cx="375.3" cy="298.0" r="0.65" fill="#4a6ad8"/><circle cx="381.3" cy="301.3" r="0.65" fill="#4a6ad8"/><circle cx="386.7" cy="302.2" r="0.65" fill="#4a6ad8"/><circle cx="394.5" cy="303.1" r="0.65" fill="#4a6ad8"/><circle cx="369.2" cy="299.8" r="0.65" fill="#4a6ad8"/><circle cx="371.5" cy="298.6" r="0.65" fill="#4a6ad8"/><circle cx="380.3" cy="300.8" r="0.65" fill="#4a6ad8"/><circle cx="385.4" cy="297.6" r="0.65" fill="#4a6ad8"/><circle cx="369.9" cy="300.8" r="0.65" fill="#4a6ad8"/><circle cx="379.2" cy="300.2" r="0.65" fill="#4a6ad8"/><circle cx="380.4" cy="299.3" r="0.65" fill="#4a6ad8"/><circle cx="387.3" cy="301.5" r="0.65" fill="#4a6ad8"/><circle cx="380.2" cy="299.5" r="0.65" fill="#4a6ad8"/><circle cx="379.4" cy="295.4" r="0.65" fill="#4a6ad8"/><circle cx="372.2" cy="300.9" r="0.65" fill="#4a6ad8"/><circle cx="367.5" cy="301.2" r="0.65" fill="#4a6ad8"/><circle cx="382.3" cy="298.0" r="0.65" fill="#4a6ad8"/><circle cx="378.7" cy="300.2" r="0.65" fill="#4a6ad8"/><circle cx="385.1" cy="302.0" r="0.65" fill="#4a6ad8"/><circle cx="380.7" cy="299.1" r="0.65" fill="#4a6ad8"/><circle cx="379.7" cy="300.7" r="0.65" fill="#4a6ad8"/><circle cx="387.6" cy="301.4" r="0.65" fill="#4a6ad8"/><circle cx="374.5" cy="298.1" r="0.65" fill="#4a6ad8"/><circle cx="377.6" cy="299.3" r="0.65" fill="#4a6ad8"/><circle cx="371.0" cy="300.6" r="0.65" fill="#4a6ad8"/><circle cx="376.6" cy="301.0" r="0.65" fill="#4a6ad8"/><circle cx="385.7" cy="300.0" r="0.65" fill="#4a6ad8"/><circle cx="401.9" cy="300.2" r="0.65" fill="#4a6ad8"/><circle cx="390.9" cy="301.0" r="0.65" fill="#4a6ad8"/><circle cx="391.0" cy="296.0" r="0.65" fill="#4a6ad8"/><circle cx="374.2" cy="301.3" r="0.65" fill="#4a6ad8"/><circle cx="386.4" cy="305.5" r="0.65" fill="#4a6ad8"/><circle cx="383.9" cy="303.4" r="0.65" fill="#4a6ad8"/><circle cx="387.9" cy="302.7" r="0.65" fill="#4a6ad8"/><circle cx="385.6" cy="300.5" r="0.65" fill="#4a6ad8"/><circle cx="385.6" cy="298.6" r="0.65" fill="#4a6ad8"/><circle cx="391.6" cy="298.8" r="0.65" fill="#4a6ad8"/><circle cx="383.2" cy="305.0" r="0.65" fill="#4a6ad8"/><circle cx="379.0" cy="300.8" r="0.65" fill="#4a6ad8"/><circle cx="391.5" cy="300.9" r="0.65" fill="#4a6ad8"/><circle cx="373.7" cy="301.3" r="0.65" fill="#4a6ad8"/><circle cx="386.2" cy="302.2" r="0.65" fill="#4a6ad8"/><circle cx="374.0" cy="304.3" r="0.65" fill="#4a6ad8"/><circle cx="396.0" cy="300.8" r="0.65" fill="#4a6ad8"/><circle cx="383.4" cy="299.9" r="0.65" fill="#4a6ad8"/><circle cx="393.7" cy="299.4" r="0.65" fill="#4a6ad8"/><circle cx="387.1" cy="299.8" r="0.65" fill="#4a6ad8"/><circle cx="374.8" cy="302.2" r="0.65" fill="#4a6ad8"/><circle cx="393.0" cy="300.8" r="0.65" fill="#4a6ad8"/><circle cx="374.9" cy="302.4" r="0.65" fill="#4a6ad8"/><circle cx="380.6" cy="301.4" r="0.65" fill="#4a6ad8"/><circle cx="394.7" cy="303.1" r="0.65" fill="#4a6ad8"/><circle cx="376.3" cy="305.4" r="0.65" fill="#4a6ad8"/><circle cx="381.0" cy="302.4" r="0.65" fill="#4a6ad8"/><circle cx="375.2" cy="300.7" r="0.65" fill="#4a6ad8"/><circle cx="393.3" cy="298.4" r="0.65" fill="#4a6ad8"/><circle cx="367.5" cy="297.6" r="0.65" fill="#4a6ad8"/><circle cx="391.6" cy="299.9" r="0.65" fill="#4a6ad8"/><circle cx="380.5" cy="300.2" r="0.65" fill="#4a6ad8"/><circle cx="379.9" cy="298.6" r="0.65" fill="#4a6ad8"/><circle cx="381.2" cy="297.9" r="0.65" fill="#4a6ad8"/><circle cx="380.4" cy="301.4" r="0.65" fill="#4a6ad8"/><circle cx="385.2" cy="300.3" r="0.65" fill="#4a6ad8"/><circle cx="372.9" cy="301.1" r="0.65" fill="#4a6ad8"/><circle cx="376.6" cy="303.9" r="0.65" fill="#4a6ad8"/><circle cx="387.9" cy="300.6" r="0.65" fill="#4a6ad8"/><circle cx="376.8" cy="299.4" r="0.65" fill="#4a6ad8"/><circle cx="372.6" cy="300.1" r="0.65" fill="#4a6ad8"/><circle cx="383.7" cy="301.8" r="0.65" fill="#4a6ad8"/><circle cx="386.1" cy="305.0" r="0.65" fill="#4a6ad8"/><circle cx="374.7" cy="300.8" r="0.65" fill="#4a6ad8"/><circle cx="406.2" cy="297.1" r="0.65" fill="#4a6ad8"/><circle cx="376.3" cy="301.1" r="0.65" fill="#4a6ad8"/><circle cx="382.4" cy="301.6" r="0.65" fill="#4a6ad8"/><circle cx="378.9" cy="301.5" r="0.65" fill="#4a6ad8"/><circle cx="381.5" cy="302.3" r="0.65" fill="#4a6ad8"/><circle cx="381.0" cy="298.7" r="0.65" fill="#4a6ad8"/><circle cx="371.6" cy="302.1" r="0.65" fill="#4a6ad8"/><circle cx="375.2" cy="302.1" r="0.65" fill="#4a6ad8"/><circle cx="387.7" cy="301.4" r="0.65" fill="#4a6ad8"/><circle cx="385.6" cy="300.6" r="0.65" fill="#4a6ad8"/><circle cx="368.3" cy="300.7" r="0.65" fill="#4a6ad8"/><circle cx="385.1" cy="299.7" r="0.65" fill="#4a6ad8"/><circle cx="380.1" cy="302.3" r="0.65" fill="#4a6ad8"/><circle cx="373.1" cy="302.1" r="0.65" fill="#4a6ad8"/><circle cx="397.8" cy="299.7" r="0.65" fill="#4a6ad8"/><circle cx="382.3" cy="300.5" r="0.65" fill="#4a6ad8"/><circle cx="394.9" cy="301.4" r="0.65" fill="#4a6ad8"/><circle cx="389.1" cy="299.4" r="0.65" fill="#4a6ad8"/><circle cx="380.9" cy="300.8" r="0.65" fill="#4a6ad8"/><circle cx="389.1" cy="297.3" r="0.65" fill="#4a6ad8"/><circle cx="387.7" cy="300.5" r="0.65" fill="#4a6ad8"/><circle cx="385.0" cy="301.5" r="0.65" fill="#4a6ad8"/><circle cx="367.5" cy="300.4" r="0.65" fill="#4a6ad8"/><circle cx="394.4" cy="299.7" r="0.65" fill="#4a6ad8"/><circle cx="371.8" cy="298.1" r="0.65" fill="#4a6ad8"/><circle cx="370.0" cy="301.5" r="0.65" fill="#4a6ad8"/><circle cx="396.2" cy="301.7" r="0.65" fill="#4a6ad8"/><circle cx="383.2" cy="305.3" r="0.65" fill="#4a6ad8"/><circle cx="376.3" cy="299.5" r="0.65" fill="#4a6ad8"/><circle cx="385.8" cy="301.9" r="0.65" fill="#4a6ad8"/><circle cx="371.9" cy="298.5" r="0.65" fill="#4a6ad8"/><circle cx="383.6" cy="301.3" r="0.65" fill="#4a6ad8"/><circle cx="369.2" cy="300.4" r="0.65" fill="#4a6ad8"/><circle cx="376.1" cy="301.7" r="0.65" fill="#4a6ad8"/><circle cx="379.9" cy="300.6" r="0.65" fill="#4a6ad8"/><circle cx="377.8" cy="302.9" r="0.65" fill="#4a6ad8"/><circle cx="393.5" cy="300.1" r="0.65" fill="#4a6ad8"/><circle cx="388.6" cy="299.3" r="0.65" fill="#4a6ad8"/><circle cx="381.6" cy="302.3" r="0.65" fill="#4a6ad8"/><circle cx="394.6" cy="300.0" r="0.65" fill="#4a6ad8"/><circle cx="380.3" cy="301.2" r="0.65" fill="#4a6ad8"/><circle cx="367.5" cy="300.8" r="0.65" fill="#4a6ad8"/><circle cx="374.9" cy="301.5" r="0.65" fill="#4a6ad8"/><circle cx="370.8" cy="296.8" r="0.65" fill="#4a6ad8"/><circle cx="381.3" cy="301.3" r="0.65" fill="#4a6ad8"/><circle cx="376.1" cy="302.6" r="0.65" fill="#4a6ad8"/><circle cx="378.5" cy="299.6" r="0.65" fill="#4a6ad8"/><circle cx="385.3" cy="297.7" r="0.65" fill="#4a6ad8"/><circle cx="374.9" cy="300.8" r="0.65" fill="#4a6ad8"/><circle cx="388.6" cy="300.5" r="0.65" fill="#4a6ad8"/><circle cx="383.8" cy="299.5" r="0.65" fill="#4a6ad8"/><circle cx="383.7" cy="304.1" r="0.65" fill="#4a6ad8"/><circle cx="374.8" cy="305.5" r="0.65" fill="#4a6ad8"/><circle cx="375.2" cy="300.8" r="0.65" fill="#4a6ad8"/><circle cx="382.6" cy="302.8" r="0.65" fill="#4a6ad8"/><circle cx="369.9" cy="296.6" r="0.65" fill="#4a6ad8"/><circle cx="386.5" cy="302.4" r="0.65" fill="#4a6ad8"/><circle cx="386.6" cy="306.1" r="0.65" fill="#4a6ad8"/><circle cx="382.8" cy="301.3" r="0.65" fill="#4a6ad8"/><circle cx="389.4" cy="301.5" r="0.65" fill="#4a6ad8"/><circle cx="396.0" cy="298.3" r="0.65" fill="#4a6ad8"/><circle cx="377.6" cy="293.9" r="0.65" fill="#4a6ad8"/><circle cx="388.3" cy="300.1" r="0.65" fill="#4a6ad8"/><circle cx="389.3" cy="305.1" r="0.65" fill="#4a6ad8"/><circle cx="380.9" cy="300.3" r="0.65" fill="#4a6ad8"/><circle cx="376.5" cy="299.1" r="0.65" fill="#4a6ad8"/><circle cx="375.3" cy="302.1" r="0.65" fill="#4a6ad8"/><circle cx="381.3" cy="300.9" r="0.65" fill="#4a6ad8"/><circle cx="379.4" cy="302.6" r="0.65" fill="#4a6ad8"/><circle cx="385.4" cy="300.5" r="0.65" fill="#4a6ad8"/><circle cx="387.0" cy="300.5" r="0.65" fill="#4a6ad8"/><circle cx="370.6" cy="303.7" r="0.65" fill="#4a6ad8"/><circle cx="385.2" cy="298.9" r="0.65" fill="#4a6ad8"/><circle cx="390.7" cy="301.5" r="0.65" fill="#4a6ad8"/><circle cx="366.9" cy="304.0" r="0.65" fill="#4a6ad8"/><circle cx="384.0" cy="302.6" r="0.65" fill="#4a6ad8"/><circle cx="382.8" cy="300.5" r="0.65" fill="#4a6ad8"/><circle cx="367.1" cy="302.7" r="0.65" fill="#4a6ad8"/><circle cx="381.3" cy="300.2" r="0.65" fill="#4a6ad8"/><circle cx="384.2" cy="301.0" r="0.65" fill="#4a6ad8"/><circle cx="387.1" cy="300.1" r="0.65" fill="#4a6ad8"/><circle cx="380.7" cy="296.5" r="0.65" fill="#4a6ad8"/><circle cx="377.2" cy="302.2" r="0.65" fill="#4a6ad8"/><circle cx="393.0" cy="300.1" r="0.65" fill="#4a6ad8"/><circle cx="379.9" cy="304.0" r="0.65" fill="#4a6ad8"/><circle cx="378.1" cy="302.3" r="0.65" fill="#4a6ad8"/><circle cx="396.1" cy="300.9" r="0.65" fill="#4a6ad8"/><circle cx="392.0" cy="299.4" r="0.65" fill="#4a6ad8"/><circle cx="382.9" cy="300.6" r="0.65" fill="#4a6ad8"/><circle cx="382.0" cy="303.1" r="0.65" fill="#4a6ad8"/><circle cx="402.5" cy="299.5" r="0.65" fill="#4a6ad8"/><circle cx="375.8" cy="301.8" r="0.65" fill="#4a6ad8"/><circle cx="371.5" cy="301.8" r="0.65" fill="#4a6ad8"/><circle cx="386.1" cy="300.2" r="0.65" fill="#4a6ad8"/><circle cx="385.8" cy="297.7" r="0.65" fill="#4a6ad8"/><circle cx="387.8" cy="297.7" r="0.65" fill="#4a6ad8"/><circle cx="374.7" cy="299.7" r="0.65" fill="#4a6ad8"/><circle cx="377.4" cy="302.5" r="0.65" fill="#4a6ad8"/><circle cx="381.7" cy="300.0" r="0.65" fill="#4a6ad8"/><circle cx="385.9" cy="304.0" r="0.65" fill="#4a6ad8"/><circle cx="381.1" cy="301.5" r="0.65" fill="#4a6ad8"/><circle cx="392.2" cy="301.3" r="0.65" fill="#4a6ad8"/><circle cx="369.4" cy="305.8" r="0.65" fill="#4a6ad8"/><circle cx="400.9" cy="296.8" r="0.65" fill="#4a6ad8"/><circle cx="380.6" cy="301.6" r="0.65" fill="#4a6ad8"/><circle cx="389.7" cy="302.1" r="0.65" fill="#4a6ad8"/><circle cx="378.6" cy="298.7" r="0.65" fill="#4a6ad8"/><circle cx="381.9" cy="302.9" r="0.65" fill="#4a6ad8"/><circle cx="371.2" cy="298.7" r="0.65" fill="#4a6ad8"/><circle cx="380.8" cy="296.9" r="0.65" fill="#4a6ad8"/><circle cx="378.7" cy="299.9" r="0.65" fill="#4a6ad8"/><circle cx="385.1" cy="299.4" r="0.65" fill="#4a6ad8"/><circle cx="373.1" cy="300.0" r="0.65" fill="#4a6ad8"/><circle cx="380.6" cy="299.5" r="0.65" fill="#4a6ad8"/><circle cx="381.1" cy="302.3" r="0.65" fill="#4a6ad8"/><circle cx="377.9" cy="304.2" r="0.65" fill="#3f60d2"/><circle cx="368.1" cy="300.8" r="0.65" fill="#3f60d2"/><circle cx="368.4" cy="301.4" r="0.65" fill="#3f60d2"/><circle cx="374.6" cy="299.3" r="0.65" fill="#3f60d2"/><circle cx="374.3" cy="301.5" r="0.65" fill="#3f60d2"/><circle cx="378.0" cy="298.5" r="0.65" fill="#3f60d2"/><circle cx="376.0" cy="301.8" r="0.65" fill="#3f60d2"/><circle cx="374.4" cy="302.2" r="0.65" fill="#3f60d2"/><circle cx="378.5" cy="301.1" r="0.65" fill="#3f60d2"/><circle cx="376.4" cy="300.8" r="0.65" fill="#3f60d2"/><circle cx="375.6" cy="300.2" r="0.65" fill="#3f60d2"/><circle cx="371.5" cy="304.3" r="0.65" fill="#3f60d2"/><circle cx="374.2" cy="301.2" r="0.65" fill="#3f60d2"/><circle cx="366.3" cy="300.2" r="0.65" fill="#3f60d2"/><circle cx="373.0" cy="303.0" r="0.65" fill="#3f60d2"/><circle cx="374.1" cy="302.3" r="0.65" fill="#3f60d2"/><circle cx="371.8" cy="303.7" r="0.65" fill="#3f60d2"/><circle cx="370.0" cy="300.6" r="0.65" fill="#3f60d2"/><circle cx="376.4" cy="301.6" r="0.65" fill="#3f60d2"/><circle cx="370.6" cy="300.6" r="0.65" fill="#3f60d2"/><circle cx="370.7" cy="302.5" r="0.65" fill="#3f60d2"/><circle cx="373.8" cy="299.6" r="0.65" fill="#3f60d2"/><circle cx="374.1" cy="301.8" r="0.65" fill="#3f60d2"/><circle cx="367.0" cy="302.7" r="0.65" fill="#3f60d2"/><circle cx="370.6" cy="301.0" r="0.65" fill="#3f60d2"/><circle cx="376.0" cy="303.6" r="0.65" fill="#3f60d2"/><circle cx="368.6" cy="302.2" r="0.65" fill="#3f60d2"/><circle cx="367.6" cy="305.2" r="0.65" fill="#3f60d2"/><circle cx="369.5" cy="303.4" r="0.65" fill="#3f60d2"/><circle cx="368.8" cy="302.8" r="0.65" fill="#3f60d2"/><circle cx="383.1" cy="297.4" r="0.65" fill="#3f60d2"/><circle cx="369.8" cy="302.3" r="0.65" fill="#3f60d2"/><circle cx="371.5" cy="300.4" r="0.65" fill="#3f60d2"/><circle cx="382.8" cy="301.6" r="0.65" fill="#3f60d2"/><circle cx="369.1" cy="301.7" r="0.65" fill="#3f60d2"/><circle cx="378.3" cy="301.7" r="0.65" fill="#3f60d2"/><circle cx="377.9" cy="302.7" r="0.65" fill="#3f60d2"/><circle cx="367.9" cy="302.9" r="0.65" fill="#3f60d2"/><circle cx="374.5" cy="302.5" r="0.65" fill="#3f60d2"/><circle cx="376.5" cy="302.7" r="0.65" fill="#3f60d2"/><circle cx="376.4" cy="297.6" r="0.65" fill="#3f60d2"/><circle cx="372.8" cy="302.3" r="0.65" fill="#3f60d2"/><circle cx="384.8" cy="300.0" r="0.65" fill="#3f60d2"/><circle cx="370.4" cy="301.6" r="0.65" fill="#3f60d2"/><circle cx="376.4" cy="300.8" r="0.65" fill="#3f60d2"/><circle cx="377.7" cy="300.2" r="0.65" fill="#3f60d2"/><circle cx="373.3" cy="300.7" r="0.65" fill="#3f60d2"/><circle cx="372.8" cy="300.4" r="0.65" fill="#3f60d2"/><circle cx="373.5" cy="300.6" r="0.65" fill="#3f60d2"/><circle cx="373.0" cy="303.1" r="0.65" fill="#3f60d2"/><circle cx="367.1" cy="301.3" r="0.65" fill="#3f60d2"/><circle cx="374.7" cy="302.3" r="0.65" fill="#3f60d2"/><circle cx="370.3" cy="298.1" r="0.65" fill="#3f60d2"/><circle cx="378.2" cy="302.0" r="0.65" fill="#3f60d2"/><circle cx="372.1" cy="301.1" r="0.65" fill="#3f60d2"/><circle cx="373.3" cy="300.8" r="0.65" fill="#3f60d2"/><circle cx="366.9" cy="300.3" r="0.65" fill="#3f60d2"/><circle cx="369.0" cy="300.5" r="0.65" fill="#3f60d2"/><circle cx="366.2" cy="302.5" r="0.65" fill="#3f60d2"/><circle cx="365.5" cy="302.6" r="0.65" fill="#3f60d2"/><circle cx="366.9" cy="302.1" r="0.65" fill="#3f60d2"/><circle cx="378.9" cy="301.8" r="0.65" fill="#3f60d2"/><circle cx="368.3" cy="301.6" r="0.65" fill="#3f60d2"/><circle cx="372.7" cy="298.7" r="0.65" fill="#3f60d2"/><circle cx="369.0" cy="301.8" r="0.65" fill="#3f60d2"/><circle cx="369.7" cy="301.6" r="0.65" fill="#3f60d2"/><circle cx="375.7" cy="302.7" r="0.65" fill="#3f60d2"/><circle cx="376.5" cy="302.4" r="0.65" fill="#3f60d2"/><circle cx="370.6" cy="301.5" r="0.65" fill="#3f60d2"/><circle cx="370.6" cy="301.0" r="0.65" fill="#3f60d2"/><circle cx="371.1" cy="298.7" r="0.65" fill="#3f60d2"/><circle cx="370.3" cy="301.5" r="0.65" fill="#3f60d2"/><circle cx="367.1" cy="301.5" r="0.65" fill="#3f60d2"/><circle cx="374.6" cy="301.2" r="0.65" fill="#3f60d2"/><circle cx="382.4" cy="297.3" r="0.65" fill="#3f60d2"/><circle cx="371.0" cy="298.6" r="0.65" fill="#3f60d2"/><circle cx="376.9" cy="305.7" r="0.65" fill="#3f60d2"/><circle cx="374.6" cy="301.0" r="0.65" fill="#3f60d2"/><circle cx="374.8" cy="297.9" r="0.65" fill="#3f60d2"/><circle cx="376.3" cy="302.1" r="0.65" fill="#3f60d2"/><circle cx="372.1" cy="300.6" r="0.65" fill="#3f60d2"/><circle cx="375.2" cy="300.7" r="0.65" fill="#3f60d2"/><circle cx="373.1" cy="300.7" r="0.65" fill="#3f60d2"/><circle cx="373.0" cy="302.7" r="0.65" fill="#3f60d2"/><circle cx="367.6" cy="301.4" r="0.65" fill="#3f60d2"/><circle cx="375.1" cy="301.7" r="0.65" fill="#3f60d2"/><circle cx="378.2" cy="304.7" r="0.65" fill="#3f60d2"/><circle cx="367.5" cy="298.4" r="0.65" fill="#3f60d2"/><circle cx="376.3" cy="303.9" r="0.65" fill="#3f60d2"/><circle cx="376.6" cy="302.8" r="0.65" fill="#3f60d2"/><circle cx="368.9" cy="300.4" r="0.65" fill="#3f60d2"/><circle cx="376.4" cy="300.0" r="0.65" fill="#3f60d2"/><circle cx="384.5" cy="304.6" r="0.65" fill="#3f60d2"/><circle cx="368.6" cy="300.3" r="0.65" fill="#3f60d2"/><circle cx="373.2" cy="300.3" r="0.65" fill="#3f60d2"/><circle cx="378.6" cy="301.4" r="0.65" fill="#3f60d2"/><circle cx="366.6" cy="303.6" r="0.65" fill="#3f60d2"/><circle cx="369.1" cy="301.9" r="0.65" fill="#3f60d2"/><circle cx="371.9" cy="301.0" r="0.65" fill="#3f60d2"/><circle cx="373.6" cy="300.4" r="0.65" fill="#3f60d2"/><circle cx="365.7" cy="300.3" r="0.65" fill="#3f60d2"/><circle cx="371.9" cy="301.6" r="0.65" fill="#3f60d2"/><circle cx="374.8" cy="301.7" r="0.65" fill="#3f60d2"/><circle cx="368.0" cy="300.4" r="0.65" fill="#3f60d2"/><circle cx="374.4" cy="302.3" r="0.65" fill="#3f60d2"/><circle cx="371.4" cy="301.2" r="0.65" fill="#3f60d2"/><circle cx="376.7" cy="301.5" r="0.65" fill="#3f60d2"/><circle cx="375.7" cy="302.4" r="0.65" fill="#3f60d2"/><circle cx="373.1" cy="303.6" r="0.65" fill="#3f60d2"/><circle cx="369.1" cy="300.9" r="0.65" fill="#3f60d2"/><circle cx="368.0" cy="300.2" r="0.65" fill="#3f60d2"/><circle cx="379.8" cy="304.3" r="0.65" fill="#3f60d2"/><circle cx="372.1" cy="302.4" r="0.65" fill="#3f60d2"/><circle cx="377.9" cy="302.8" r="0.65" fill="#3f60d2"/><circle cx="378.0" cy="299.5" r="0.65" fill="#3f60d2"/><circle cx="368.8" cy="302.2" r="0.65" fill="#3f60d2"/><circle cx="379.2" cy="301.7" r="0.65" fill="#3f60d2"/><circle cx="367.7" cy="300.9" r="0.65" fill="#3f60d2"/><circle cx="368.7" cy="300.1" r="0.65" fill="#3f60d2"/><circle cx="379.5" cy="300.5" r="0.65" fill="#3f60d2"/><circle cx="372.1" cy="305.0" r="0.65" fill="#3f60d2"/><circle cx="377.9" cy="302.0" r="0.65" fill="#3f60d2"/><circle cx="368.9" cy="302.2" r="0.65" fill="#3f60d2"/><circle cx="380.1" cy="302.5" r="0.65" fill="#3f60d2"/><circle cx="378.3" cy="301.7" r="0.65" fill="#3f60d2"/><circle cx="374.6" cy="301.2" r="0.65" fill="#3f60d2"/><circle cx="374.1" cy="303.6" r="0.65" fill="#3f60d2"/><circle cx="373.2" cy="300.6" r="0.65" fill="#3f60d2"/><circle cx="370.5" cy="302.8" r="0.65" fill="#3f60d2"/><circle cx="382.0" cy="302.5" r="0.65" fill="#3f60d2"/><circle cx="373.6" cy="299.0" r="0.65" fill="#3f60d2"/><circle cx="381.6" cy="301.6" r="0.65" fill="#3f60d2"/><circle cx="371.8" cy="299.7" r="0.65" fill="#3f60d2"/><circle cx="371.7" cy="299.7" r="0.65" fill="#3f60d2"/><circle cx="372.4" cy="302.2" r="0.65" fill="#3f60d2"/><circle cx="372.2" cy="301.9" r="0.65" fill="#3f60d2"/><circle cx="367.7" cy="303.8" r="0.65" fill="#3f60d2"/><circle cx="368.7" cy="298.6" r="0.65" fill="#3f60d2"/><circle cx="371.1" cy="300.3" r="0.65" fill="#3f60d2"/><circle cx="367.0" cy="300.9" r="0.65" fill="#3f60d2"/><circle cx="373.5" cy="299.6" r="0.65" fill="#3f60d2"/><circle cx="371.3" cy="303.8" r="0.65" fill="#3f60d2"/><circle cx="375.4" cy="301.3" r="0.65" fill="#3f60d2"/><circle cx="372.6" cy="301.3" r="0.65" fill="#3f60d2"/><circle cx="371.8" cy="302.7" r="0.65" fill="#3f60d2"/><circle cx="371.5" cy="297.7" r="0.65" fill="#3f60d2"/><circle cx="371.9" cy="300.1" r="0.65" fill="#3f60d2"/><circle cx="400.9" cy="298.0" r="0.65" fill="#6a88e2"/><circle cx="397.9" cy="304.7" r="0.65" fill="#6a88e2"/><circle cx="390.7" cy="296.8" r="0.65" fill="#6a88e2"/><circle cx="388.5" cy="293.8" r="0.65" fill="#6a88e2"/><circle cx="385.7" cy="300.4" r="0.65" fill="#6a88e2"/><circle cx="393.2" cy="295.0" r="0.65" fill="#6a88e2"/><circle cx="388.1" cy="301.0" r="0.65" fill="#6a88e2"/><circle cx="392.3" cy="298.6" r="0.65" fill="#6a88e2"/><circle cx="399.0" cy="302.8" r="0.65" fill="#6a88e2"/><circle cx="408.6" cy="302.0" r="0.65" fill="#6a88e2"/><circle cx="397.9" cy="299.9" r="0.65" fill="#6a88e2"/><circle cx="407.8" cy="302.9" r="0.65" fill="#6a88e2"/><circle cx="395.1" cy="300.6" r="0.65" fill="#6a88e2"/><circle cx="398.7" cy="299.6" r="0.65" fill="#6a88e2"/><circle cx="394.0" cy="296.3" r="0.65" fill="#6a88e2"/><circle cx="393.8" cy="295.8" r="0.65" fill="#6a88e2"/><circle cx="404.3" cy="300.8" r="0.65" fill="#6a88e2"/><circle cx="389.8" cy="302.8" r="0.65" fill="#6a88e2"/><circle cx="402.4" cy="294.9" r="0.65" fill="#6a88e2"/><circle cx="408.0" cy="301.4" r="0.65" fill="#6a88e2"/><circle cx="409.4" cy="296.5" r="0.65" fill="#6a88e2"/><circle cx="400.2" cy="300.5" r="0.65" fill="#6a88e2"/><circle cx="398.2" cy="299.9" r="0.65" fill="#6a88e2"/><circle cx="403.3" cy="295.9" r="0.65" fill="#6a88e2"/><circle cx="389.5" cy="296.2" r="0.65" fill="#6a88e2"/><circle cx="393.7" cy="298.0" r="0.65" fill="#6a88e2"/><circle cx="399.2" cy="300.1" r="0.65" fill="#6a88e2"/><circle cx="397.2" cy="297.9" r="0.65" fill="#6a88e2"/><circle cx="394.3" cy="301.8" r="0.65" fill="#6a88e2"/><circle cx="401.6" cy="299.7" r="0.65" fill="#6a88e2"/><circle cx="395.1" cy="303.2" r="0.65" fill="#6a88e2"/><circle cx="393.4" cy="301.1" r="0.65" fill="#6a88e2"/><circle cx="403.9" cy="298.9" r="0.65" fill="#6a88e2"/><circle cx="402.0" cy="296.8" r="0.65" fill="#6a88e2"/><circle cx="403.1" cy="300.0" r="0.65" fill="#6a88e2"/><circle cx="387.5" cy="301.1" r="0.65" fill="#6a88e2"/><circle cx="391.6" cy="302.6" r="0.65" fill="#6a88e2"/><circle cx="392.9" cy="299.1" r="0.65" fill="#6a88e2"/><circle cx="398.7" cy="298.7" r="0.65" fill="#6a88e2"/><circle cx="398.6" cy="298.2" r="0.65" fill="#6a88e2"/><circle cx="401.0" cy="299.5" r="0.65" fill="#6a88e2"/><circle cx="398.3" cy="292.9" r="0.65" fill="#6a88e2"/><circle cx="404.0" cy="299.6" r="0.65" fill="#6a88e2"/><circle cx="386.3" cy="299.7" r="0.65" fill="#6a88e2"/><circle cx="399.8" cy="302.1" r="0.65" fill="#6a88e2"/><circle cx="390.5" cy="303.2" r="0.65" fill="#6a88e2"/><circle cx="396.0" cy="305.2" r="0.65" fill="#6a88e2"/><circle cx="396.1" cy="301.1" r="0.65" fill="#6a88e2"/><circle cx="394.8" cy="296.8" r="0.65" fill="#6a88e2"/><circle cx="403.6" cy="301.7" r="0.65" fill="#6a88e2"/><circle cx="406.2" cy="301.6" r="0.65" fill="#6a88e2"/><circle cx="393.6" cy="295.5" r="0.65" fill="#6a88e2"/><circle cx="393.1" cy="297.9" r="0.65" fill="#6a88e2"/><circle cx="392.1" cy="300.9" r="0.65" fill="#6a88e2"/><circle cx="399.0" cy="298.9" r="0.65" fill="#6a88e2"/><circle cx="398.0" cy="299.2" r="0.65" fill="#6a88e2"/><circle cx="398.3" cy="301.3" r="0.65" fill="#6a88e2"/><circle cx="402.8" cy="297.9" r="0.65" fill="#6a88e2"/><circle cx="388.0" cy="302.9" r="0.65" fill="#6a88e2"/><circle cx="397.7" cy="302.2" r="0.65" fill="#6a88e2"/><circle cx="387.1" cy="298.7" r="0.65" fill="#6a88e2"/><circle cx="397.2" cy="296.0" r="0.65" fill="#6a88e2"/><circle cx="393.9" cy="301.2" r="0.65" fill="#6a88e2"/><circle cx="403.5" cy="303.3" r="0.65" fill="#6a88e2"/><circle cx="391.8" cy="296.1" r="0.65" fill="#6a88e2"/><circle cx="400.1" cy="301.8" r="0.65" fill="#6a88e2"/><circle cx="398.2" cy="296.4" r="0.65" fill="#6a88e2"/><circle cx="401.7" cy="301.4" r="0.65" fill="#6a88e2"/><circle cx="400.3" cy="298.3" r="0.65" fill="#6a88e2"/><circle cx="398.8" cy="301.4" r="0.65" fill="#6a88e2"/><circle cx="393.6" cy="295.1" r="0.65" fill="#6a88e2"/><circle cx="399.0" cy="300.7" r="0.65" fill="#6a88e2"/><circle cx="397.1" cy="301.6" r="0.65" fill="#6a88e2"/><circle cx="393.5" cy="299.3" r="0.65" fill="#6a88e2"/><circle cx="395.2" cy="300.9" r="0.65" fill="#6a88e2"/><circle cx="406.6" cy="298.9" r="0.65" fill="#6a88e2"/><circle cx="409.3" cy="303.2" r="0.65" fill="#6a88e2"/><circle cx="401.7" cy="300.9" r="0.65" fill="#6a88e2"/><circle cx="407.6" cy="299.1" r="0.65" fill="#6a88e2"/><circle cx="396.3" cy="296.9" r="0.65" fill="#6a88e2"/><circle cx="399.8" cy="302.7" r="0.65" fill="#6a88e2"/><circle cx="400.2" cy="300.5" r="0.65" fill="#6a88e2"/><circle cx="395.8" cy="299.9" r="0.65" fill="#6a88e2"/><circle cx="388.4" cy="302.0" r="0.65" fill="#6a88e2"/><circle cx="394.5" cy="296.8" r="0.65" fill="#6a88e2"/><circle cx="392.5" cy="297.5" r="0.65" fill="#6a88e2"/><circle cx="402.1" cy="302.0" r="0.65" fill="#6a88e2"/><circle cx="388.9" cy="301.7" r="0.65" fill="#6a88e2"/><circle cx="402.3" cy="298.1" r="0.65" fill="#6a88e2"/><circle cx="388.1" cy="297.7" r="0.65" fill="#6a88e2"/><circle cx="415.6" cy="300.3" r="0.65" fill="#4a6cd8"/><circle cx="416.9" cy="293.5" r="0.65" fill="#4a6cd8"/><circle cx="419.6" cy="294.1" r="0.65" fill="#4a6cd8"/><circle cx="422.6" cy="294.0" r="0.65" fill="#4a6cd8"/><circle cx="415.4" cy="297.1" r="0.65" fill="#4a6cd8"/><circle cx="416.1" cy="302.7" r="0.65" fill="#4a6cd8"/><circle cx="422.3" cy="299.0" r="0.65" fill="#4a6cd8"/><circle cx="419.9" cy="293.9" r="0.65" fill="#4a6cd8"/><circle cx="416.2" cy="297.7" r="0.65" fill="#4a6cd8"/><circle cx="414.1" cy="301.2" r="0.65" fill="#4a6cd8"/><circle cx="415.2" cy="297.6" r="0.65" fill="#4a6cd8"/><circle cx="413.8" cy="294.4" r="0.65" fill="#4a6cd8"/><circle cx="421.2" cy="301.3" r="0.65" fill="#4a6cd8"/><circle cx="419.3" cy="295.6" r="0.65" fill="#4a6cd8"/><circle cx="406.3" cy="302.6" r="0.65" fill="#4a6cd8"/><circle cx="424.0" cy="297.7" r="0.65" fill="#4a6cd8"/><circle cx="422.7" cy="301.2" r="0.65" fill="#4a6cd8"/><circle cx="423.6" cy="295.8" r="0.65" fill="#4a6cd8"/><circle cx="423.2" cy="299.2" r="0.65" fill="#4a6cd8"/><circle cx="411.6" cy="299.5" r="0.65" fill="#4a6cd8"/><circle cx="412.1" cy="300.1" r="0.65" fill="#4a6cd8"/><circle cx="421.1" cy="294.9" r="0.65" fill="#4a6cd8"/><circle cx="409.2" cy="304.8" r="0.65" fill="#4a6cd8"/><circle cx="420.2" cy="301.9" r="0.65" fill="#4a6cd8"/><circle cx="412.5" cy="303.1" r="0.65" fill="#4a6cd8"/><circle cx="427.8" cy="301.1" r="0.65" fill="#4a6cd8"/><circle cx="417.6" cy="299.5" r="0.65" fill="#4a6cd8"/><circle cx="417.8" cy="301.4" r="0.65" fill="#4a6cd8"/><circle cx="423.2" cy="297.3" r="0.65" fill="#4a6cd8"/><circle cx="412.4" cy="302.3" r="0.65" fill="#4a6cd8"/><circle cx="416.4" cy="300.8" r="0.65" fill="#4a6cd8"/><circle cx="419.7" cy="302.5" r="0.65" fill="#4a6cd8"/><circle cx="423.6" cy="295.8" r="0.65" fill="#4a6cd8"/><circle cx="420.1" cy="302.8" r="0.65" fill="#4a6cd8"/><circle cx="416.1" cy="300.4" r="0.65" fill="#4a6cd8"/><circle cx="423.9" cy="300.3" r="0.65" fill="#4a6cd8"/><circle cx="420.8" cy="294.3" r="0.65" fill="#4a6cd8"/><circle cx="412.8" cy="300.9" r="0.65" fill="#4a6cd8"/><circle cx="420.2" cy="304.8" r="0.65" fill="#4a6cd8"/><circle cx="414.6" cy="302.7" r="0.65" fill="#4a6cd8"/><circle cx="422.0" cy="293.0" r="0.65" fill="#4a6cd8"/><circle cx="414.8" cy="300.1" r="0.65" fill="#4a6cd8"/><circle cx="416.3" cy="298.8" r="0.65" fill="#4a6cd8"/><circle cx="420.6" cy="295.7" r="0.65" fill="#4a6cd8"/><circle cx="420.6" cy="296.2" r="0.65" fill="#4a6cd8"/><circle cx="416.0" cy="300.7" r="0.65" fill="#4a6cd8"/><circle cx="415.9" cy="300.0" r="0.65" fill="#4a6cd8"/><circle cx="425.7" cy="296.4" r="0.65" fill="#4a6cd8"/><circle cx="417.8" cy="300.7" r="0.65" fill="#4a6cd8"/><circle cx="416.9" cy="301.9" r="0.65" fill="#4a6cd8"/><circle cx="412.7" cy="301.9" r="0.65" fill="#4a6cd8"/><circle cx="416.2" cy="297.1" r="0.65" fill="#4a6cd8"/><circle cx="426.5" cy="293.8" r="0.65" fill="#4a6cd8"/><circle cx="426.4" cy="297.9" r="0.65" fill="#4a6cd8"/><circle cx="425.0" cy="293.9" r="0.65" fill="#4a6cd8"/><circle cx="423.9" cy="300.8" r="0.65" fill="#4a6cd8"/><circle cx="418.0" cy="298.3" r="0.65" fill="#4a6cd8"/><circle cx="429.6" cy="295.7" r="0.65" fill="#4a6cd8"/><circle cx="416.6" cy="297.4" r="0.65" fill="#4a6cd8"/><circle cx="420.5" cy="298.8" r="0.65" fill="#4a6cd8"/><circle cx="419.3" cy="302.9" r="0.65" fill="#4a6cd8"/><circle cx="417.0" cy="300.2" r="0.65" fill="#4a6cd8"/><circle cx="425.1" cy="293.8" r="0.65" fill="#4a6cd8"/><circle cx="423.2" cy="302.0" r="0.65" fill="#4a6cd8"/><circle cx="412.4" cy="297.4" r="0.65" fill="#4a6cd8"/><circle cx="413.8" cy="295.0" r="0.65" fill="#4a6cd8"/><circle cx="420.5" cy="292.9" r="0.65" fill="#4a6cd8"/><circle cx="420.7" cy="301.7" r="0.65" fill="#4a6cd8"/><circle cx="411.2" cy="299.8" r="0.65" fill="#4a6cd8"/><circle cx="409.9" cy="303.2" r="0.65" fill="#4a6cd8"/><circle cx="415.2" cy="298.8" r="0.65" fill="#4a6cd8"/><circle cx="418.7" cy="299.9" r="0.65" fill="#4a6cd8"/><circle cx="416.9" cy="299.0" r="0.65" fill="#4a6cd8"/><circle cx="416.0" cy="299.5" r="0.65" fill="#4a6cd8"/><circle cx="413.2" cy="300.3" r="0.65" fill="#4a6cd8"/><circle cx="409.8" cy="299.8" r="0.65" fill="#4a6cd8"/><circle cx="427.1" cy="296.1" r="0.65" fill="#4a6cd8"/><circle cx="412.8" cy="300.9" r="0.65" fill="#4a6cd8"/><circle cx="414.1" cy="295.4" r="0.65" fill="#4a6cd8"/><circle cx="415.2" cy="301.5" r="0.65" fill="#4a6cd8"/><circle cx="420.2" cy="297.7" r="0.65" fill="#4a6cd8"/><circle cx="414.3" cy="296.9" r="0.65" fill="#4a6cd8"/><circle cx="424.6" cy="297.3" r="0.65" fill="#4a6cd8"/><circle cx="414.2" cy="294.1" r="0.65" fill="#4a6cd8"/><circle cx="412.3" cy="307.0" r="0.65" fill="#4a6cd8"/><circle cx="413.3" cy="299.8" r="0.65" fill="#4a6cd8"/><circle cx="419.4" cy="297.8" r="0.65" fill="#4a6cd8"/><circle cx="417.2" cy="295.2" r="0.65" fill="#4a6cd8"/><circle cx="413.8" cy="304.4" r="0.65" fill="#4a6cd8"/><circle cx="415.1" cy="301.8" r="0.65" fill="#4a6cd8"/><circle cx="410.9" cy="300.1" r="0.65" fill="#4a6cd8"/><circle cx="419.7" cy="300.9" r="0.65" fill="#4a6cd8"/><circle cx="413.4" cy="301.6" r="0.65" fill="#4a6cd8"/><circle cx="420.2" cy="296.0" r="0.65" fill="#4a6cd8"/><circle cx="420.6" cy="295.4" r="0.65" fill="#4a6cd8"/><circle cx="414.9" cy="299.5" r="0.65" fill="#4a6cd8"/><circle cx="406.3" cy="301.9" r="0.65" fill="#4a6cd8"/><circle cx="414.0" cy="295.9" r="0.65" fill="#4a6cd8"/><circle cx="416.6" cy="301.1" r="0.65" fill="#4a6cd8"/><circle cx="416.7" cy="302.4" r="0.65" fill="#4a6cd8"/><circle cx="413.3" cy="296.5" r="0.65" fill="#4a6cd8"/><circle cx="425.5" cy="297.5" r="0.65" fill="#4a6cd8"/><circle cx="422.8" cy="295.0" r="0.65" fill="#4a6cd8"/><circle cx="422.1" cy="298.1" r="0.65" fill="#4a6cd8"/><circle cx="421.4" cy="297.7" r="0.65" fill="#4a6cd8"/><circle cx="423.9" cy="295.1" r="0.65" fill="#4a6cd8"/><circle cx="414.2" cy="295.8" r="0.65" fill="#4a6cd8"/><circle cx="423.7" cy="295.0" r="0.65" fill="#4a6cd8"/><circle cx="413.8" cy="297.4" r="0.65" fill="#4a6cd8"/><circle cx="416.5" cy="295.7" r="0.65" fill="#4a6cd8"/><circle cx="417.2" cy="297.2" r="0.65" fill="#4a6cd8"/><circle cx="416.0" cy="296.7" r="0.65" fill="#4a6cd8"/><circle cx="418.7" cy="297.2" r="0.65" fill="#4a6cd8"/><circle cx="419.0" cy="299.0" r="0.65" fill="#4a6cd8"/><circle cx="420.0" cy="292.2" r="0.65" fill="#4a6cd8"/><circle cx="416.1" cy="297.1" r="0.65" fill="#4a6cd8"/><circle cx="422.0" cy="293.2" r="0.65" fill="#4a6cd8"/><circle cx="415.3" cy="298.7" r="0.65" fill="#4a6cd8"/><circle cx="417.0" cy="301.6" r="0.65" fill="#4a6cd8"/><circle cx="416.5" cy="301.7" r="0.65" fill="#4a6cd8"/><circle cx="411.9" cy="295.6" r="0.65" fill="#4a6cd8"/><circle cx="424.0" cy="298.0" r="0.65" fill="#4a6cd8"/><circle cx="420.7" cy="298.2" r="0.65" fill="#4a6cd8"/><circle cx="420.7" cy="294.6" r="0.65" fill="#4a6cd8"/><circle cx="422.8" cy="295.8" r="0.65" fill="#4a6cd8"/><circle cx="422.9" cy="297.4" r="0.65" fill="#4a6cd8"/><circle cx="409.6" cy="297.7" r="0.65" fill="#4a6cd8"/><circle cx="423.6" cy="296.6" r="0.65" fill="#4a6cd8"/><circle cx="416.7" cy="299.7" r="0.65" fill="#4a6cd8"/><circle cx="416.6" cy="297.6" r="0.65" fill="#4a6cd8"/><circle cx="419.0" cy="298.7" r="0.65" fill="#4a6cd8"/><circle cx="425.3" cy="296.6" r="0.65" fill="#4a6cd8"/><circle cx="427.0" cy="300.8" r="0.65" fill="#4a6cd8"/><circle cx="426.2" cy="299.0" r="0.65" fill="#4a6cd8"/><circle cx="419.1" cy="298.7" r="0.65" fill="#4a6cd8"/><circle cx="417.9" cy="296.7" r="0.65" fill="#4a6cd8"/><circle cx="418.2" cy="296.9" r="0.65" fill="#4a6cd8"/><circle cx="425.9" cy="297.7" r="0.65" fill="#4a6cd8"/><circle cx="416.5" cy="294.0" r="0.65" fill="#4a6cd8"/><circle cx="418.3" cy="297.5" r="0.65" fill="#4a6cd8"/><circle cx="413.6" cy="296.9" r="0.65" fill="#4a6cd8"/><circle cx="408.4" cy="303.1" r="0.65" fill="#4a6cd8"/><circle cx="418.2" cy="305.5" r="0.65" fill="#4a6cd8"/><circle cx="418.4" cy="298.1" r="0.65" fill="#4a6cd8"/><circle cx="425.0" cy="296.9" r="0.65" fill="#4a6cd8"/><circle cx="419.3" cy="297.3" r="0.65" fill="#4a6cd8"/><circle cx="415.8" cy="303.3" r="0.65" fill="#4a6cd8"/><circle cx="423.0" cy="301.7" r="0.65" fill="#4a6cd8"/><circle cx="416.9" cy="299.1" r="0.65" fill="#4a6cd8"/><circle cx="414.5" cy="302.3" r="0.65" fill="#4a6cd8"/><circle cx="412.2" cy="301.9" r="0.65" fill="#4a6cd8"/><circle cx="423.4" cy="300.8" r="0.65" fill="#4a6cd8"/><circle cx="414.3" cy="302.7" r="0.65" fill="#4a6cd8"/><circle cx="415.3" cy="297.4" r="0.65" fill="#4a6cd8"/><circle cx="412.5" cy="303.4" r="0.65" fill="#4a6cd8"/><circle cx="425.9" cy="294.7" r="0.65" fill="#4a6cd8"/><circle cx="415.1" cy="298.6" r="0.65" fill="#4a6cd8"/><circle cx="429.8" cy="297.8" r="0.65" fill="#4a6cd8"/><circle cx="416.1" cy="294.4" r="0.65" fill="#4a6cd8"/><circle cx="415.5" cy="302.6" r="0.65" fill="#4a6cd8"/><circle cx="426.9" cy="295.3" r="0.65" fill="#4a6cd8"/><circle cx="415.4" cy="298.1" r="0.65" fill="#4a6cd8"/><circle cx="410.0" cy="303.5" r="0.65" fill="#4a6cd8"/><circle cx="413.6" cy="302.8" r="0.65" fill="#4a6cd8"/><circle cx="410.8" cy="297.4" r="0.65" fill="#4a6cd8"/><circle cx="419.8" cy="296.1" r="0.65" fill="#4a6cd8"/><circle cx="422.0" cy="297.5" r="0.65" fill="#4a6cd8"/><circle cx="413.2" cy="301.8" r="0.65" fill="#4a6cd8"/><circle cx="422.3" cy="292.2" r="0.65" fill="#4a6cd8"/><circle cx="426.7" cy="297.4" r="0.65" fill="#4a6cd8"/><circle cx="421.9" cy="292.5" r="0.65" fill="#4a6cd8"/><circle cx="415.3" cy="298.5" r="0.65" fill="#4a6cd8"/><circle cx="423.3" cy="293.1" r="0.65" fill="#4a6cd8"/><circle cx="414.5" cy="294.3" r="0.65" fill="#4a6cd8"/><circle cx="417.4" cy="299.8" r="0.65" fill="#4a6cd8"/><circle cx="410.9" cy="299.2" r="0.65" fill="#4a6cd8"/><circle cx="420.8" cy="302.1" r="0.65" fill="#4a6cd8"/><circle cx="421.5" cy="296.8" r="0.65" fill="#4a6cd8"/><circle cx="413.2" cy="297.6" r="0.65" fill="#4a6cd8"/><circle cx="415.5" cy="299.8" r="0.65" fill="#4a6cd8"/><circle cx="418.3" cy="303.0" r="0.65" fill="#4a6cd8"/><circle cx="419.8" cy="295.2" r="0.65" fill="#4a6cd8"/><circle cx="425.4" cy="299.0" r="0.65" fill="#4a6cd8"/><circle cx="419.0" cy="296.4" r="0.65" fill="#4a6cd8"/><circle cx="410.1" cy="298.3" r="0.65" fill="#4a6cd8"/><circle cx="422.6" cy="295.1" r="0.65" fill="#4a6cd8"/><circle cx="412.6" cy="300.8" r="0.65" fill="#4a6cd8"/><circle cx="419.6" cy="299.8" r="0.65" fill="#4a6cd8"/><circle cx="421.4" cy="301.4" r="0.65" fill="#4a6cd8"/><circle cx="414.7" cy="302.3" r="0.65" fill="#4a6cd8"/><circle cx="414.1" cy="301.7" r="0.65" fill="#4a6cd8"/><circle cx="419.3" cy="298.9" r="0.65" fill="#4a6cd8"/><circle cx="422.9" cy="297.1" r="0.65" fill="#4a6cd8"/><circle cx="423.5" cy="299.3" r="0.65" fill="#4a6cd8"/><circle cx="419.1" cy="296.8" r="0.65" fill="#4a6cd8"/><circle cx="415.1" cy="298.1" r="0.65" fill="#4a6cd8"/><circle cx="417.6" cy="298.7" r="0.65" fill="#4a6cd8"/><circle cx="431.9" cy="296.2" r="0.65" fill="#4a6cd8"/><circle cx="422.0" cy="295.2" r="0.65" fill="#4a6cd8"/><circle cx="415.3" cy="298.6" r="0.65" fill="#4a6cd8"/><circle cx="419.4" cy="295.5" r="0.65" fill="#4a6cd8"/><circle cx="425.8" cy="294.8" r="0.65" fill="#4a6cd8"/><circle cx="423.4" cy="290.8" r="0.65" fill="#4a6cd8"/><circle cx="418.5" cy="299.3" r="0.65" fill="#4a6cd8"/><circle cx="419.4" cy="299.9" r="0.65" fill="#4a6cd8"/><circle cx="419.8" cy="298.6" r="0.65" fill="#4a6cd8"/><circle cx="410.0" cy="299.1" r="0.65" fill="#4a6cd8"/><circle cx="408.0" cy="303.3" r="0.65" fill="#4a6cd8"/><circle cx="419.9" cy="297.6" r="0.65" fill="#4a6cd8"/><circle cx="414.8" cy="298.1" r="0.65" fill="#4a6cd8"/><circle cx="426.8" cy="300.6" r="0.65" fill="#4a6cd8"/><circle cx="418.2" cy="302.0" r="0.65" fill="#4a6cd8"/><circle cx="411.4" cy="295.5" r="0.65" fill="#4a6cd8"/><circle cx="416.3" cy="296.8" r="0.65" fill="#4a6cd8"/><circle cx="416.0" cy="299.8" r="0.65" fill="#4a6cd8"/><circle cx="432.1" cy="292.6" r="0.65" fill="#4a6cd8"/><circle cx="418.7" cy="299.2" r="0.65" fill="#4a6cd8"/><circle cx="418.3" cy="301.0" r="0.65" fill="#4a6cd8"/><circle cx="426.5" cy="292.8" r="0.65" fill="#4a6cd8"/><circle cx="419.2" cy="297.6" r="0.65" fill="#4a6cd8"/><circle cx="420.1" cy="293.9" r="0.65" fill="#4a6cd8"/><circle cx="410.6" cy="294.7" r="0.65" fill="#4a6cd8"/><circle cx="420.9" cy="298.3" r="0.65" fill="#4a6cd8"/><circle cx="418.8" cy="292.1" r="0.65" fill="#4a6cd8"/><circle cx="416.8" cy="297.0" r="0.65" fill="#4a6cd8"/><circle cx="412.1" cy="298.0" r="0.65" fill="#4a6cd8"/><circle cx="421.6" cy="299.0" r="0.65" fill="#4a6cd8"/><circle cx="418.4" cy="299.9" r="0.65" fill="#4a6cd8"/><circle cx="415.8" cy="299.5" r="0.65" fill="#4a6cd8"/><circle cx="418.7" cy="299.9" r="0.65" fill="#4a6cd8"/><circle cx="418.2" cy="298.2" r="0.65" fill="#4a6cd8"/><circle cx="417.9" cy="297.0" r="0.65" fill="#4a6cd8"/><circle cx="428.6" cy="296.9" r="0.65" fill="#4a6cd8"/><circle cx="420.4" cy="304.1" r="0.65" fill="#4a6cd8"/><circle cx="424.8" cy="292.4" r="0.65" fill="#4a6cd8"/><circle cx="421.6" cy="299.8" r="0.65" fill="#4a6cd8"/><circle cx="427.0" cy="299.5" r="0.65" fill="#4a6cd8"/><circle cx="422.0" cy="294.3" r="0.65" fill="#4a6cd8"/><circle cx="414.6" cy="300.4" r="0.65" fill="#4a6cd8"/><circle cx="420.8" cy="295.1" r="0.65" fill="#4a6cd8"/><circle cx="416.8" cy="297.9" r="0.65" fill="#4a6cd8"/><circle cx="418.8" cy="299.3" r="0.65" fill="#4a6cd8"/><circle cx="417.2" cy="295.6" r="0.65" fill="#4a6cd8"/><circle cx="424.1" cy="301.1" r="0.65" fill="#4a6cd8"/><circle cx="418.0" cy="301.4" r="0.65" fill="#4a6cd8"/><circle cx="420.5" cy="299.7" r="0.65" fill="#4a6cd8"/><circle cx="420.7" cy="295.8" r="0.65" fill="#4a6cd8"/><circle cx="421.1" cy="300.4" r="0.65" fill="#4a6cd8"/><circle cx="414.5" cy="305.0" r="0.65" fill="#4a6cd8"/><circle cx="427.9" cy="300.6" r="0.65" fill="#4a6cd8"/><circle cx="427.5" cy="297.8" r="0.65" fill="#4a6cd8"/><circle cx="417.0" cy="297.3" r="0.65" fill="#4a6cd8"/><circle cx="414.8" cy="299.9" r="0.65" fill="#4a6cd8"/><circle cx="418.4" cy="300.3" r="0.65" fill="#4a6cd8"/><circle cx="409.4" cy="307.4" r="0.65" fill="#4a6cd8"/><circle cx="428.7" cy="295.4" r="0.65" fill="#4a6cd8"/><circle cx="421.5" cy="298.9" r="0.65" fill="#4a6cd8"/><circle cx="419.7" cy="297.6" r="0.65" fill="#4a6cd8"/><circle cx="417.9" cy="296.5" r="0.65" fill="#4a6cd8"/><circle cx="419.3" cy="298.2" r="0.65" fill="#4a6cd8"/><circle cx="419.9" cy="295.8" r="0.65" fill="#4a6cd8"/><circle cx="418.7" cy="298.6" r="0.65" fill="#4a6cd8"/><circle cx="421.2" cy="294.8" r="0.65" fill="#4a6cd8"/><circle cx="420.4" cy="300.6" r="0.65" fill="#4a6cd8"/><circle cx="421.2" cy="296.7" r="0.65" fill="#4a6cd8"/><circle cx="416.3" cy="298.5" r="0.65" fill="#4a6cd8"/><circle cx="421.8" cy="301.7" r="0.65" fill="#4a6cd8"/><circle cx="417.8" cy="297.0" r="0.65" fill="#4a6cd8"/><circle cx="420.2" cy="298.5" r="0.65" fill="#4a6cd8"/><circle cx="414.4" cy="297.8" r="0.65" fill="#4a6cd8"/><circle cx="418.0" cy="300.4" r="0.65" fill="#4a6cd8"/><circle cx="413.1" cy="297.4" r="0.65" fill="#4a6cd8"/><circle cx="420.7" cy="294.5" r="0.65" fill="#4a6cd8"/><circle cx="419.0" cy="299.3" r="0.65" fill="#4a6cd8"/><circle cx="418.0" cy="295.9" r="0.65" fill="#4a6cd8"/><circle cx="418.2" cy="297.7" r="0.65" fill="#4a6cd8"/><circle cx="420.0" cy="295.8" r="0.65" fill="#4a6cd8"/><circle cx="423.4" cy="292.5" r="0.65" fill="#4a6cd8"/><circle cx="417.7" cy="298.8" r="0.65" fill="#4a6cd8"/><circle cx="422.8" cy="295.6" r="0.65" fill="#4a6cd8"/><circle cx="421.0" cy="296.2" r="0.65" fill="#4a6cd8"/><circle cx="421.8" cy="302.2" r="0.65" fill="#4a6cd8"/><circle cx="416.7" cy="300.2" r="0.65" fill="#4a6cd8"/><circle cx="414.3" cy="302.4" r="0.65" fill="#4a6cd8"/><circle cx="423.9" cy="297.0" r="0.65" fill="#4a6cd8"/><circle cx="413.4" cy="301.1" r="0.65" fill="#4a6cd8"/><circle cx="423.7" cy="299.9" r="0.65" fill="#4a6cd8"/><circle cx="422.2" cy="292.5" r="0.65" fill="#4a6cd8"/><circle cx="415.4" cy="303.2" r="0.65" fill="#4a6cd8"/><circle cx="413.0" cy="303.2" r="0.65" fill="#4a6cd8"/><circle cx="427.0" cy="298.0" r="0.65" fill="#4a6cd8"/><circle cx="423.5" cy="296.1" r="0.65" fill="#4a6cd8"/><circle cx="413.0" cy="299.9" r="0.65" fill="#4a6cd8"/><circle cx="417.6" cy="298.6" r="0.65" fill="#4a6cd8"/><circle cx="421.6" cy="297.2" r="0.65" fill="#4a6cd8"/><circle cx="419.4" cy="299.4" r="0.65" fill="#4a6cd8"/><circle cx="418.5" cy="303.4" r="0.65" fill="#4a6cd8"/><circle cx="420.5" cy="298.1" r="0.65" fill="#4a6cd8"/><circle cx="417.6" cy="297.1" r="0.65" fill="#4a6cd8"/><circle cx="424.5" cy="297.1" r="0.65" fill="#4a6cd8"/><circle cx="413.6" cy="269.3" r="0.65" fill="#5a7ce0"/><circle cx="418.3" cy="269.7" r="0.65" fill="#5a7ce0"/><circle cx="424.4" cy="267.5" r="0.65" fill="#5a7ce0"/><circle cx="421.5" cy="271.4" r="0.65" fill="#5a7ce0"/><circle cx="413.1" cy="271.1" r="0.65" fill="#5a7ce0"/><circle cx="418.5" cy="272.5" r="0.65" fill="#5a7ce0"/><circle cx="416.7" cy="271.9" r="0.65" fill="#5a7ce0"/><circle cx="410.7" cy="267.7" r="0.65" fill="#5a7ce0"/><circle cx="422.9" cy="274.1" r="0.65" fill="#5a7ce0"/><circle cx="418.9" cy="269.2" r="0.65" fill="#5a7ce0"/><circle cx="424.4" cy="264.7" r="0.65" fill="#5a7ce0"/><circle cx="415.0" cy="273.0" r="0.65" fill="#5a7ce0"/><circle cx="422.3" cy="267.9" r="0.65" fill="#5a7ce0"/><circle cx="409.6" cy="275.4" r="0.65" fill="#5a7ce0"/><circle cx="419.8" cy="268.3" r="0.65" fill="#5a7ce0"/><circle cx="419.3" cy="273.7" r="0.65" fill="#5a7ce0"/><circle cx="406.0" cy="274.3" r="0.65" fill="#5a7ce0"/><circle cx="422.7" cy="264.8" r="0.65" fill="#5a7ce0"/><circle cx="422.9" cy="265.7" r="0.65" fill="#5a7ce0"/><circle cx="424.7" cy="272.2" r="0.65" fill="#5a7ce0"/><circle cx="430.3" cy="269.2" r="0.65" fill="#5a7ce0"/><circle cx="419.0" cy="274.1" r="0.65" fill="#5a7ce0"/><circle cx="415.8" cy="268.9" r="0.65" fill="#5a7ce0"/><circle cx="417.1" cy="270.8" r="0.65" fill="#5a7ce0"/><circle cx="413.6" cy="272.5" r="0.65" fill="#5a7ce0"/><circle cx="421.7" cy="271.2" r="0.65" fill="#5a7ce0"/><circle cx="427.5" cy="270.0" r="0.65" fill="#5a7ce0"/><circle cx="425.5" cy="269.4" r="0.65" fill="#5a7ce0"/><circle cx="422.8" cy="265.2" r="0.65" fill="#5a7ce0"/><circle cx="420.0" cy="270.5" r="0.65" fill="#5a7ce0"/><circle cx="416.5" cy="269.2" r="0.65" fill="#5a7ce0"/><circle cx="417.3" cy="268.8" r="0.65" fill="#5a7ce0"/><circle cx="408.0" cy="269.2" r="0.65" fill="#5a7ce0"/><circle cx="416.3" cy="269.4" r="0.65" fill="#5a7ce0"/><circle cx="413.7" cy="270.6" r="0.65" fill="#5a7ce0"/><circle cx="422.9" cy="270.2" r="0.65" fill="#5a7ce0"/><circle cx="416.5" cy="275.1" r="0.65" fill="#5a7ce0"/><circle cx="423.9" cy="273.8" r="0.65" fill="#5a7ce0"/><circle cx="424.8" cy="270.0" r="0.65" fill="#5a7ce0"/><circle cx="418.4" cy="274.3" r="0.65" fill="#5a7ce0"/><circle cx="416.2" cy="270.6" r="0.65" fill="#5a7ce0"/><circle cx="420.9" cy="272.1" r="0.65" fill="#5a7ce0"/><circle cx="417.6" cy="274.0" r="0.65" fill="#5a7ce0"/><circle cx="418.1" cy="273.2" r="0.65" fill="#5a7ce0"/><circle cx="424.4" cy="273.0" r="0.65" fill="#5a7ce0"/><circle cx="422.7" cy="267.5" r="0.65" fill="#5a7ce0"/><circle cx="412.4" cy="269.1" r="0.65" fill="#5a7ce0"/><circle cx="421.4" cy="275.5" r="0.65" fill="#5a7ce0"/><circle cx="412.9" cy="271.9" r="0.65" fill="#5a7ce0"/><circle cx="414.7" cy="268.8" r="0.65" fill="#5a7ce0"/><circle cx="417.6" cy="273.1" r="0.65" fill="#5a7ce0"/><circle cx="420.1" cy="274.5" r="0.65" fill="#5a7ce0"/><circle cx="414.1" cy="273.7" r="0.65" fill="#5a7ce0"/><circle cx="423.7" cy="271.2" r="0.65" fill="#5a7ce0"/><circle cx="421.4" cy="269.3" r="0.65" fill="#5a7ce0"/><circle cx="413.6" cy="269.8" r="0.65" fill="#5a7ce0"/><circle cx="415.8" cy="279.7" r="0.65" fill="#5a7ce0"/><circle cx="416.6" cy="276.0" r="0.65" fill="#5a7ce0"/><circle cx="420.0" cy="271.9" r="0.65" fill="#5a7ce0"/><circle cx="422.7" cy="268.7" r="0.65" fill="#5a7ce0"/><circle cx="423.6" cy="272.1" r="0.65" fill="#5a7ce0"/><circle cx="411.4" cy="272.8" r="0.65" fill="#5a7ce0"/><circle cx="421.8" cy="272.4" r="0.65" fill="#5a7ce0"/><circle cx="426.9" cy="269.8" r="0.65" fill="#5a7ce0"/><circle cx="421.6" cy="273.2" r="0.65" fill="#5a7ce0"/><circle cx="414.5" cy="274.6" r="0.65" fill="#5a7ce0"/><circle cx="411.7" cy="267.1" r="0.65" fill="#5a7ce0"/><circle cx="421.6" cy="267.7" r="0.65" fill="#5a7ce0"/><circle cx="418.4" cy="266.1" r="0.65" fill="#5a7ce0"/><circle cx="419.3" cy="267.6" r="0.65" fill="#5a7ce0"/><circle cx="420.7" cy="266.4" r="0.65" fill="#5a7ce0"/><circle cx="421.2" cy="270.2" r="0.65" fill="#5a7ce0"/><circle cx="419.3" cy="270.8" r="0.65" fill="#5a7ce0"/><circle cx="419.7" cy="267.0" r="0.65" fill="#5a7ce0"/><circle cx="406.2" cy="271.1" r="0.65" fill="#5a7ce0"/><circle cx="414.3" cy="269.6" r="0.65" fill="#5a7ce0"/><circle cx="421.1" cy="265.0" r="0.65" fill="#5a7ce0"/><circle cx="415.2" cy="269.2" r="0.65" fill="#5a7ce0"/><circle cx="413.7" cy="272.0" r="0.65" fill="#5a7ce0"/><circle cx="418.3" cy="268.5" r="0.65" fill="#5a7ce0"/><circle cx="414.1" cy="273.4" r="0.65" fill="#5a7ce0"/><circle cx="415.7" cy="272.8" r="0.65" fill="#5a7ce0"/><circle cx="421.2" cy="265.3" r="0.65" fill="#5a7ce0"/><circle cx="413.6" cy="271.0" r="0.65" fill="#5a7ce0"/><circle cx="420.7" cy="273.3" r="0.65" fill="#5a7ce0"/><circle cx="423.0" cy="274.1" r="0.65" fill="#5a7ce0"/><circle cx="417.1" cy="270.4" r="0.65" fill="#5a7ce0"/><circle cx="422.9" cy="269.7" r="0.65" fill="#5a7ce0"/><circle cx="424.3" cy="266.2" r="0.65" fill="#5a7ce0"/><circle cx="422.3" cy="270.5" r="0.65" fill="#5a7ce0"/><circle cx="409.2" cy="273.9" r="0.65" fill="#5a7ce0"/><circle cx="420.6" cy="271.1" r="0.65" fill="#5a7ce0"/><circle cx="413.6" cy="269.6" r="0.65" fill="#5a7ce0"/><circle cx="426.6" cy="268.5" r="0.65" fill="#5a7ce0"/><circle cx="401.6" cy="268.4" r="0.65" fill="#5a7ce0"/><circle cx="413.0" cy="270.6" r="0.65" fill="#5a7ce0"/><circle cx="417.0" cy="268.3" r="0.65" fill="#5a7ce0"/><circle cx="414.8" cy="274.1" r="0.65" fill="#5a7ce0"/><circle cx="411.8" cy="276.9" r="0.65" fill="#5a7ce0"/><circle cx="416.3" cy="267.7" r="0.65" fill="#5a7ce0"/><circle cx="422.9" cy="272.7" r="0.65" fill="#5a7ce0"/><circle cx="413.8" cy="273.2" r="0.65" fill="#5a7ce0"/><circle cx="409.8" cy="268.2" r="0.65" fill="#5a7ce0"/><circle cx="424.6" cy="270.2" r="0.65" fill="#5a7ce0"/><circle cx="412.5" cy="272.5" r="0.65" fill="#5a7ce0"/><circle cx="423.6" cy="270.9" r="0.65" fill="#5a7ce0"/><circle cx="410.0" cy="270.0" r="0.65" fill="#5a7ce0"/><circle cx="421.1" cy="273.3" r="0.65" fill="#5a7ce0"/><circle cx="428.3" cy="270.2" r="0.65" fill="#5a7ce0"/><circle cx="416.6" cy="270.9" r="0.65" fill="#5a7ce0"/><circle cx="425.0" cy="268.2" r="0.65" fill="#5a7ce0"/><circle cx="425.5" cy="262.8" r="0.65" fill="#5a7ce0"/><circle cx="423.0" cy="269.0" r="0.65" fill="#5a7ce0"/><circle cx="421.3" cy="273.1" r="0.65" fill="#5a7ce0"/><circle cx="413.1" cy="270.7" r="0.65" fill="#5a7ce0"/><circle cx="420.2" cy="272.8" r="0.65" fill="#5a7ce0"/><circle cx="414.3" cy="268.0" r="0.65" fill="#5a7ce0"/><circle cx="409.4" cy="278.6" r="0.65" fill="#5a7ce0"/><circle cx="418.0" cy="270.3" r="0.65" fill="#5a7ce0"/><circle cx="411.5" cy="273.8" r="0.65" fill="#5a7ce0"/><circle cx="416.3" cy="275.3" r="0.65" fill="#5a7ce0"/><circle cx="423.3" cy="271.1" r="0.65" fill="#5a7ce0"/><circle cx="422.6" cy="267.7" r="0.65" fill="#5a7ce0"/><circle cx="417.4" cy="269.3" r="0.65" fill="#5a7ce0"/><circle cx="412.7" cy="271.1" r="0.65" fill="#5a7ce0"/><circle cx="418.3" cy="275.3" r="0.65" fill="#5a7ce0"/><circle cx="402.2" cy="269.0" r="0.65" fill="#5a7ce0"/><circle cx="414.4" cy="269.6" r="0.65" fill="#5a7ce0"/><circle cx="421.1" cy="272.2" r="0.65" fill="#5a7ce0"/><circle cx="419.1" cy="269.6" r="0.65" fill="#5a7ce0"/><circle cx="421.5" cy="272.1" r="0.65" fill="#5a7ce0"/><circle cx="409.8" cy="270.2" r="0.65" fill="#5a7ce0"/><circle cx="412.1" cy="267.5" r="0.65" fill="#5a7ce0"/><circle cx="419.7" cy="271.2" r="0.65" fill="#5a7ce0"/><circle cx="419.6" cy="268.4" r="0.65" fill="#5a7ce0"/><circle cx="418.0" cy="268.3" r="0.65" fill="#5a7ce0"/><circle cx="420.9" cy="273.1" r="0.65" fill="#5a7ce0"/><circle cx="427.8" cy="274.8" r="0.65" fill="#5a7ce0"/><circle cx="415.0" cy="269.6" r="0.65" fill="#5a7ce0"/><circle cx="414.3" cy="271.9" r="0.65" fill="#5a7ce0"/><circle cx="428.9" cy="273.1" r="0.65" fill="#5a7ce0"/><circle cx="408.0" cy="267.2" r="0.65" fill="#5a7ce0"/><circle cx="412.5" cy="272.5" r="0.65" fill="#5a7ce0"/><circle cx="419.0" cy="271.9" r="0.65" fill="#5a7ce0"/><circle cx="427.9" cy="268.5" r="0.65" fill="#5a7ce0"/><circle cx="414.8" cy="276.9" r="0.65" fill="#5a7ce0"/><circle cx="420.7" cy="268.7" r="0.65" fill="#5a7ce0"/><circle cx="408.9" cy="266.4" r="0.65" fill="#5a7ce0"/><circle cx="406.8" cy="271.2" r="0.65" fill="#5a7ce0"/><circle cx="419.2" cy="274.0" r="0.65" fill="#5a7ce0"/><circle cx="418.3" cy="268.9" r="0.65" fill="#5a7ce0"/><circle cx="415.3" cy="276.7" r="0.65" fill="#5a7ce0"/><circle cx="410.2" cy="271.5" r="0.65" fill="#5a7ce0"/><circle cx="419.1" cy="272.9" r="0.65" fill="#5a7ce0"/><circle cx="417.0" cy="272.5" r="0.65" fill="#5a7ce0"/><circle cx="423.1" cy="270.6" r="0.65" fill="#5a7ce0"/><circle cx="416.7" cy="270.4" r="0.65" fill="#5a7ce0"/><circle cx="414.2" cy="270.4" r="0.65" fill="#5a7ce0"/><circle cx="417.5" cy="271.6" r="0.65" fill="#5a7ce0"/><circle cx="425.7" cy="274.9" r="0.65" fill="#5a7ce0"/><circle cx="416.8" cy="272.8" r="0.65" fill="#5a7ce0"/><circle cx="420.5" cy="273.3" r="0.65" fill="#5a7ce0"/><circle cx="419.1" cy="271.8" r="0.65" fill="#5a7ce0"/><circle cx="416.7" cy="268.6" r="0.65" fill="#5a7ce0"/><circle cx="423.4" cy="274.9" r="0.65" fill="#5a7ce0"/><circle cx="422.3" cy="272.3" r="0.65" fill="#5a7ce0"/><circle cx="420.3" cy="269.6" r="0.65" fill="#5a7ce0"/><circle cx="410.1" cy="273.0" r="0.65" fill="#5a7ce0"/><circle cx="420.0" cy="269.3" r="0.65" fill="#5a7ce0"/><circle cx="414.2" cy="274.8" r="0.65" fill="#5a7ce0"/><circle cx="410.0" cy="276.3" r="0.65" fill="#5a7ce0"/><circle cx="422.2" cy="278.1" r="0.65" fill="#5a7ce0"/><circle cx="415.4" cy="270.9" r="0.65" fill="#5a7ce0"/><circle cx="416.5" cy="271.5" r="0.65" fill="#5a7ce0"/><circle cx="418.0" cy="268.8" r="0.65" fill="#5a7ce0"/><circle cx="424.4" cy="268.6" r="0.65" fill="#5a7ce0"/><circle cx="416.5" cy="272.7" r="0.65" fill="#5a7ce0"/><circle cx="416.3" cy="269.7" r="0.65" fill="#5a7ce0"/><circle cx="420.8" cy="269.9" r="0.65" fill="#5a7ce0"/><circle cx="412.8" cy="270.7" r="0.65" fill="#5a7ce0"/><circle cx="417.9" cy="276.1" r="0.65" fill="#5a7ce0"/><circle cx="413.5" cy="273.9" r="0.65" fill="#5a7ce0"/><circle cx="415.1" cy="269.9" r="0.65" fill="#5a7ce0"/><circle cx="417.4" cy="271.8" r="0.65" fill="#5a7ce0"/><circle cx="423.3" cy="276.2" r="0.65" fill="#5a7ce0"/><circle cx="415.8" cy="275.0" r="0.65" fill="#5a7ce0"/><circle cx="424.0" cy="273.4" r="0.65" fill="#5a7ce0"/><circle cx="415.2" cy="273.7" r="0.65" fill="#5a7ce0"/><circle cx="418.5" cy="272.1" r="0.65" fill="#5a7ce0"/><circle cx="417.7" cy="273.0" r="0.65" fill="#5a7ce0"/><circle cx="424.6" cy="274.4" r="0.65" fill="#5a7ce0"/><circle cx="418.0" cy="274.0" r="0.65" fill="#5a7ce0"/><circle cx="426.3" cy="268.2" r="0.65" fill="#5a7ce0"/><circle cx="426.4" cy="267.0" r="0.65" fill="#5a7ce0"/><circle cx="421.7" cy="272.8" r="0.65" fill="#5a7ce0"/><circle cx="426.4" cy="271.8" r="0.65" fill="#5a7ce0"/><circle cx="416.6" cy="268.6" r="0.65" fill="#5a7ce0"/><circle cx="412.7" cy="273.3" r="0.65" fill="#5a7ce0"/><circle cx="417.8" cy="268.8" r="0.65" fill="#5a7ce0"/><circle cx="421.7" cy="268.7" r="0.65" fill="#5a7ce0"/><circle cx="414.0" cy="273.6" r="0.65" fill="#4a60d8"/><circle cx="421.3" cy="277.4" r="0.65" fill="#4a60d8"/><circle cx="414.9" cy="271.4" r="0.65" fill="#4a60d8"/><circle cx="416.5" cy="274.6" r="0.65" fill="#4a60d8"/><circle cx="416.7" cy="275.6" r="0.65" fill="#4a60d8"/><circle cx="414.4" cy="276.4" r="0.65" fill="#4a60d8"/><circle cx="418.4" cy="274.9" r="0.65" fill="#4a60d8"/><circle cx="414.1" cy="273.5" r="0.65" fill="#4a60d8"/><circle cx="417.9" cy="272.3" r="0.65" fill="#4a60d8"/><circle cx="414.9" cy="273.0" r="0.65" fill="#4a60d8"/><circle cx="410.6" cy="275.7" r="0.65" fill="#4a60d8"/><circle cx="415.4" cy="274.6" r="0.65" fill="#4a60d8"/><circle cx="418.6" cy="271.5" r="0.65" fill="#4a60d8"/><circle cx="415.3" cy="275.1" r="0.65" fill="#4a60d8"/><circle cx="418.4" cy="272.3" r="0.65" fill="#4a60d8"/><circle cx="418.0" cy="274.9" r="0.65" fill="#4a60d8"/><circle cx="420.2" cy="276.8" r="0.65" fill="#4a60d8"/><circle cx="417.4" cy="278.8" r="0.65" fill="#4a60d8"/><circle cx="415.5" cy="273.7" r="0.65" fill="#4a60d8"/><circle cx="414.3" cy="272.6" r="0.65" fill="#4a60d8"/><circle cx="415.4" cy="270.7" r="0.65" fill="#4a60d8"/><circle cx="415.2" cy="275.4" r="0.65" fill="#4a60d8"/><circle cx="419.0" cy="273.8" r="0.65" fill="#4a60d8"/><circle cx="420.4" cy="273.2" r="0.65" fill="#4a60d8"/><circle cx="415.0" cy="270.7" r="0.65" fill="#4a60d8"/><circle cx="412.8" cy="272.9" r="0.65" fill="#4a60d8"/><circle cx="420.6" cy="275.5" r="0.65" fill="#4a60d8"/><circle cx="411.7" cy="275.5" r="0.65" fill="#4a60d8"/><circle cx="417.1" cy="274.0" r="0.65" fill="#4a60d8"/><circle cx="415.6" cy="273.9" r="0.65" fill="#4a60d8"/><circle cx="413.6" cy="271.0" r="0.65" fill="#4a60d8"/><circle cx="415.2" cy="277.0" r="0.65" fill="#4a60d8"/><circle cx="420.4" cy="274.0" r="0.65" fill="#4a60d8"/><circle cx="412.9" cy="274.1" r="0.65" fill="#4a60d8"/><circle cx="418.6" cy="275.2" r="0.65" fill="#4a60d8"/><circle cx="413.5" cy="275.2" r="0.65" fill="#4a60d8"/><circle cx="414.8" cy="275.5" r="0.65" fill="#4a60d8"/><circle cx="414.1" cy="271.6" r="0.65" fill="#4a60d8"/><circle cx="415.7" cy="276.0" r="0.65" fill="#4a60d8"/><circle cx="411.7" cy="274.3" r="0.65" fill="#4a60d8"/><circle cx="418.5" cy="273.8" r="0.65" fill="#4a60d8"/><circle cx="413.3" cy="278.5" r="0.65" fill="#4a60d8"/><circle cx="418.3" cy="276.5" r="0.65" fill="#4a60d8"/><circle cx="412.3" cy="277.7" r="0.65" fill="#4a60d8"/><circle cx="409.9" cy="273.5" r="0.65" fill="#4a60d8"/><circle cx="418.0" cy="277.1" r="0.65" fill="#4a60d8"/><circle cx="412.3" cy="273.2" r="0.65" fill="#4a60d8"/><circle cx="416.2" cy="270.7" r="0.65" fill="#4a60d8"/><circle cx="417.7" cy="275.6" r="0.65" fill="#4a60d8"/><circle cx="414.0" cy="275.5" r="0.65" fill="#4a60d8"/><circle cx="418.1" cy="275.1" r="0.65" fill="#4a60d8"/><circle cx="417.3" cy="277.4" r="0.65" fill="#4a60d8"/><circle cx="413.9" cy="274.8" r="0.65" fill="#4a60d8"/><circle cx="413.7" cy="276.5" r="0.65" fill="#4a60d8"/><circle cx="414.1" cy="275.4" r="0.65" fill="#4a60d8"/><circle cx="416.0" cy="274.6" r="0.65" fill="#4a60d8"/><circle cx="421.3" cy="274.3" r="0.65" fill="#4a60d8"/><circle cx="420.3" cy="276.1" r="0.65" fill="#4a60d8"/><circle cx="420.0" cy="274.2" r="0.65" fill="#4a60d8"/><circle cx="418.6" cy="276.0" r="0.65" fill="#4a60d8"/><circle cx="413.4" cy="275.0" r="0.65" fill="#4a60d8"/><circle cx="415.1" cy="274.4" r="0.65" fill="#4a60d8"/><circle cx="419.9" cy="273.1" r="0.65" fill="#4a60d8"/><circle cx="409.8" cy="271.1" r="0.65" fill="#4a60d8"/><circle cx="414.0" cy="273.3" r="0.65" fill="#4a60d8"/><circle cx="415.5" cy="275.6" r="0.65" fill="#4a60d8"/><circle cx="421.4" cy="275.1" r="0.65" fill="#4a60d8"/><circle cx="417.1" cy="273.1" r="0.65" fill="#4a60d8"/><circle cx="417.5" cy="277.1" r="0.65" fill="#4a60d8"/><circle cx="420.0" cy="270.7" r="0.65" fill="#4a60d8"/><circle cx="418.5" cy="277.6" r="0.65" fill="#4a60d8"/><circle cx="418.3" cy="271.6" r="0.65" fill="#4a60d8"/><circle cx="414.5" cy="275.6" r="0.65" fill="#4a60d8"/><circle cx="416.9" cy="272.9" r="0.65" fill="#4a60d8"/><circle cx="412.5" cy="276.4" r="0.65" fill="#4a60d8"/><circle cx="411.0" cy="277.3" r="0.65" fill="#4a60d8"/><circle cx="415.6" cy="275.1" r="0.65" fill="#4a60d8"/><circle cx="411.0" cy="273.4" r="0.65" fill="#4a60d8"/><circle cx="417.8" cy="271.7" r="0.65" fill="#4a60d8"/><circle cx="422.5" cy="271.8" r="0.65" fill="#4a60d8"/><circle cx="394.4" cy="284.4" r="0.65" fill="#9ab0ec"/><circle cx="409.2" cy="290.3" r="0.65" fill="#9ab0ec"/><circle cx="401.8" cy="282.2" r="0.65" fill="#9ab0ec"/><circle cx="403.0" cy="279.0" r="0.65" fill="#9ab0ec"/><circle cx="382.7" cy="292.3" r="0.65" fill="#9ab0ec"/><circle cx="407.2" cy="285.4" r="0.65" fill="#9ab0ec"/><circle cx="399.6" cy="286.2" r="0.65" fill="#9ab0ec"/><circle cx="404.9" cy="283.3" r="0.65" fill="#9ab0ec"/><circle cx="414.6" cy="269.1" r="0.65" fill="#9ab0ec"/><circle cx="407.2" cy="274.8" r="0.65" fill="#9ab0ec"/><circle cx="402.3" cy="297.0" r="0.65" fill="#9ab0ec"/><circle cx="395.6" cy="283.1" r="0.65" fill="#9ab0ec"/><circle cx="399.9" cy="292.2" r="0.65" fill="#9ab0ec"/><circle cx="396.5" cy="269.5" r="0.65" fill="#9ab0ec"/><circle cx="409.4" cy="280.9" r="0.65" fill="#9ab0ec"/><circle cx="402.2" cy="293.3" r="0.65" fill="#9ab0ec"/><circle cx="397.3" cy="280.8" r="0.65" fill="#9ab0ec"/><circle cx="406.3" cy="287.6" r="0.65" fill="#9ab0ec"/><circle cx="400.5" cy="292.9" r="0.65" fill="#9ab0ec"/><circle cx="424.4" cy="280.5" r="0.65" fill="#9ab0ec"/><circle cx="421.2" cy="265.8" r="0.65" fill="#9ab0ec"/><circle cx="417.2" cy="281.0" r="0.65" fill="#9ab0ec"/><circle cx="406.2" cy="281.1" r="0.65" fill="#9ab0ec"/><circle cx="399.5" cy="273.0" r="0.65" fill="#9ab0ec"/><circle cx="401.6" cy="295.2" r="0.65" fill="#9ab0ec"/><circle cx="414.9" cy="281.0" r="0.65" fill="#9ab0ec"/><circle cx="400.4" cy="277.9" r="0.65" fill="#9ab0ec"/><circle cx="394.6" cy="299.6" r="0.65" fill="#9ab0ec"/><circle cx="410.7" cy="285.0" r="0.65" fill="#9ab0ec"/><circle cx="400.8" cy="275.2" r="0.65" fill="#9ab0ec"/><circle cx="416.4" cy="290.7" r="0.65" fill="#9ab0ec"/><circle cx="396.8" cy="292.5" r="0.65" fill="#9ab0ec"/><circle cx="395.4" cy="289.5" r="0.65" fill="#9ab0ec"/><circle cx="396.7" cy="280.4" r="0.65" fill="#9ab0ec"/><circle cx="409.3" cy="287.7" r="0.65" fill="#9ab0ec"/><circle cx="432.7" cy="260.8" r="0.65" fill="#c8b8f0"/><circle cx="437.6" cy="279.6" r="0.65" fill="#c8b8f0"/><circle cx="423.9" cy="272.0" r="0.65" fill="#c8b8f0"/><circle cx="417.3" cy="266.7" r="0.65" fill="#c8b8f0"/><circle cx="412.6" cy="268.8" r="0.65" fill="#c8b8f0"/><circle cx="425.7" cy="279.6" r="0.65" fill="#c8b8f0"/><circle cx="432.2" cy="275.0" r="0.65" fill="#c8b8f0"/><circle cx="420.9" cy="266.1" r="0.65" fill="#c8b8f0"/><circle cx="421.1" cy="269.9" r="0.65" fill="#c8b8f0"/><circle cx="407.3" cy="274.7" r="0.65" fill="#c8b8f0"/><circle cx="410.5" cy="263.5" r="0.65" fill="#c8b8f0"/><circle cx="424.2" cy="263.6" r="0.65" fill="#c8b8f0"/><circle cx="438.4" cy="267.2" r="0.65" fill="#c8b8f0"/><circle cx="437.6" cy="278.1" r="0.65" fill="#c8b8f0"/><circle cx="419.7" cy="271.5" r="0.65" fill="#c8b8f0"/><circle cx="435.2" cy="265.1" r="0.65" fill="#c8b8f0"/><circle cx="424.8" cy="263.2" r="0.65" fill="#c8b8f0"/><circle cx="424.5" cy="264.9" r="0.65" fill="#c8b8f0"/><circle cx="424.7" cy="276.7" r="0.65" fill="#c8b8f0"/><circle cx="436.0" cy="269.2" r="0.65" fill="#c8b8f0"/><circle cx="425.7" cy="275.4" r="0.65" fill="#c8b8f0"/><circle cx="421.5" cy="258.9" r="0.65" fill="#c8b8f0"/><circle cx="433.6" cy="259.9" r="0.65" fill="#c8b8f0"/><circle cx="432.0" cy="259.7" r="0.65" fill="#c8b8f0"/><circle cx="439.8" cy="259.0" r="0.65" fill="#c8b8f0"/><circle cx="431.3" cy="281.0" r="0.65" fill="#c8b8f0"/><circle cx="415.7" cy="280.8" r="0.65" fill="#c8b8f0"/><circle cx="416.9" cy="252.8" r="0.65" fill="#c8b8f0"/><circle cx="430.2" cy="274.1" r="0.65" fill="#c8b8f0"/><circle cx="422.2" cy="246.2" r="0.65" fill="#c8b8f0"/><circle cx="423.5" cy="265.4" r="0.65" fill="#c8b8f0"/><circle cx="420.7" cy="265.5" r="0.65" fill="#c8b8f0"/><circle cx="408.5" cy="263.1" r="0.65" fill="#c8b8f0"/><circle cx="439.6" cy="281.4" r="0.65" fill="#c8b8f0"/><circle cx="420.9" cy="261.8" r="0.65" fill="#c8b8f0"/><circle cx="427.4" cy="277.2" r="0.65" fill="#c8b8f0"/><circle cx="430.2" cy="257.9" r="0.65" fill="#c8b8f0"/><circle cx="425.4" cy="269.2" r="0.65" fill="#c8b8f0"/><circle cx="436.4" cy="278.3" r="0.65" fill="#c8b8f0"/><circle cx="428.5" cy="278.5" r="0.65" fill="#c8b8f0"/></g>
<ellipse cx="419.3" cy="270.6" rx="7.2" ry="3.4" fill="#5cc060" transform="rotate(-8 419.3 270.6)" filter="url(#blur05)"/>
<ellipse cx="419" cy="270.2" rx="3.6" ry="1.8" fill="#e6e040" transform="rotate(-8 419 270.2)" filter="url(#blur05)"/>
<ellipse cx="418.6" cy="270.2" rx="1.6" ry="1.0" fill="#e08a30" filter="url(#blur05)"/>
<line x1="407.20" y1="229.70" x2="407.20" y2="311.00" stroke="#111" stroke-width="1.5"/>
<line x1="364.60" y1="287.80" x2="443.00" y2="287.80" stroke="#111" stroke-width="1.5"/>
<ellipse cx="424.5" cy="269" rx="16.2" ry="16.9" fill="none" stroke="#4e2464" stroke-width="1.7"/>
<text transform="translate(365.26 328.80) scale(0.937 1)" fill="#000"><tspan font-size="10.43" font-weight="bold">Annexin-a5-FITC</tspan></text>
<text transform="translate(352.90 301.18) rotate(-90) scale(0.913 1)" fill="#000"><tspan font-size="10.29" font-weight="bold">CD-235a -PE</tspan></text>
<path d="M444.6,269.6 L450.6,266.4 L450.6,268.7 L467,268.7 L467,270.5 L450.6,270.5 L450.6,272.8 Z" fill="#4b4468"/>
<text transform="translate(470.41 257.10) scale(0.941 1)" fill="#4f4c72"><tspan font-size="11.30" font-weight="bold">PS+</tspan></text>
<text transform="translate(470.65 273.00) scale(1.028 1)" fill="#4f4c72"><tspan font-size="10.86" font-weight="bold">CD235a+</tspan></text>
<text transform="translate(470.33 288.40) scale(1.102 1)" fill="#4f4c72"><tspan font-size="10.72" font-weight="bold">MP</tspan></text>
<line x1="303.50" y1="351.00" x2="303.50" y2="463.80" stroke="#b8b8b8" stroke-width="1"/>
<line x1="300.80" y1="351.00" x2="303.50" y2="351.00" stroke="#b8b8b8" stroke-width="1"/>
<text x="295.50" y="354.54" font-size="8.8" text-anchor="end" fill="#262626">1500</text>
<line x1="300.80" y1="369.80" x2="303.50" y2="369.80" stroke="#b8b8b8" stroke-width="1"/>
<text x="295.50" y="373.34" font-size="8.8" text-anchor="end" fill="#262626">1250</text>
<line x1="300.80" y1="388.60" x2="303.50" y2="388.60" stroke="#b8b8b8" stroke-width="1"/>
<text x="295.50" y="392.14" font-size="8.8" text-anchor="end" fill="#262626">1000</text>
<line x1="300.80" y1="407.40" x2="303.50" y2="407.40" stroke="#b8b8b8" stroke-width="1"/>
<text x="295.50" y="410.94" font-size="8.8" text-anchor="end" fill="#262626">750</text>
<line x1="300.80" y1="426.20" x2="303.50" y2="426.20" stroke="#b8b8b8" stroke-width="1"/>
<text x="295.50" y="429.74" font-size="8.8" text-anchor="end" fill="#262626">500</text>
<line x1="300.80" y1="445.00" x2="303.50" y2="445.00" stroke="#b8b8b8" stroke-width="1"/>
<text x="295.50" y="448.54" font-size="8.8" text-anchor="end" fill="#262626">250</text>
<line x1="300.80" y1="463.80" x2="303.50" y2="463.80" stroke="#b8b8b8" stroke-width="1"/>
<text x="295.50" y="467.34" font-size="8.8" text-anchor="end" fill="#262626">0</text>
<line x1="303.50" y1="463.80" x2="384.00" y2="463.80" stroke="#b8b8b8" stroke-width="1"/>
<rect x="309.30" y="441.20" width="30.70" height="22.60" fill="url(#gb)" stroke="none" stroke-width="1"/>
<line x1="324.70" y1="434.50" x2="324.70" y2="441.20" stroke="#555" stroke-width="1"/>
<line x1="323.50" y1="434.50" x2="325.90" y2="434.50" stroke="#555" stroke-width="1"/>
<rect x="349.00" y="375.20" width="31.60" height="88.60" fill="#99483f" stroke="#42201c" stroke-width="0.9"/>
<line x1="364.80" y1="367.70" x2="364.80" y2="375.20" stroke="#555" stroke-width="1"/>
<line x1="363.60" y1="367.70" x2="366.00" y2="367.70" stroke="#555" stroke-width="1"/>
<path d="M365.10,358.10 L365.10,354.83 M365.10,358.10 L368.21,357.09 M365.10,358.10 L367.02,360.74 M365.10,358.10 L363.18,360.74 M365.10,358.10 L361.99,357.09 " stroke="#000" stroke-width="2.32" stroke-linecap="round" fill="none"/>
<text transform="translate(305.04 484.70) scale(1.076 1)" fill="#000"><tspan font-size="10.57" font-weight="bold">Control</tspan></text>
<text transform="translate(353.67 484.70) scale(1.043 1)" fill="#000"><tspan font-size="10.57" font-weight="bold">SCD</tspan></text>
<text transform="translate(270.90 439.17) rotate(-90) scale(1.166 1)" fill="#000"><tspan font-size="11.45" font-weight="bold">PS+ MP/µl</tspan></text>
<line x1="440.80" y1="350.20" x2="440.80" y2="462.60" stroke="#b8b8b8" stroke-width="1"/>
<line x1="438.10" y1="350.50" x2="440.80" y2="350.50" stroke="#b8b8b8" stroke-width="1"/>
<text x="432.20" y="354.04" font-size="8.8" text-anchor="end" fill="#262626">1500</text>
<line x1="438.10" y1="369.18" x2="440.80" y2="369.18" stroke="#b8b8b8" stroke-width="1"/>
<text x="432.20" y="372.72" font-size="8.8" text-anchor="end" fill="#262626">1250</text>
<line x1="438.10" y1="387.86" x2="440.80" y2="387.86" stroke="#b8b8b8" stroke-width="1"/>
<text x="432.20" y="391.40" font-size="8.8" text-anchor="end" fill="#262626">1000</text>
<line x1="438.10" y1="406.54" x2="440.80" y2="406.54" stroke="#b8b8b8" stroke-width="1"/>
<text x="432.20" y="410.08" font-size="8.8" text-anchor="end" fill="#262626">750</text>
<line x1="438.10" y1="425.22" x2="440.80" y2="425.22" stroke="#b8b8b8" stroke-width="1"/>
<text x="432.20" y="428.76" font-size="8.8" text-anchor="end" fill="#262626">500</text>
<line x1="438.10" y1="443.90" x2="440.80" y2="443.90" stroke="#b8b8b8" stroke-width="1"/>
<text x="432.20" y="447.44" font-size="8.8" text-anchor="end" fill="#262626">250</text>
<line x1="438.10" y1="462.58" x2="440.80" y2="462.58" stroke="#b8b8b8" stroke-width="1"/>
<text x="432.20" y="466.12" font-size="8.8" text-anchor="end" fill="#262626">0</text>
<line x1="440.80" y1="462.60" x2="515.00" y2="462.60" stroke="#b8b8b8" stroke-width="1"/>
<rect x="446.10" y="457.60" width="27.80" height="5.00" fill="url(#gb)" stroke="none" stroke-width="1"/>
<line x1="460.00" y1="456.50" x2="460.00" y2="457.60" stroke="#555" stroke-width="1"/>
<line x1="458.80" y1="456.50" x2="461.20" y2="456.50" stroke="#555" stroke-width="1"/>
<rect x="482.90" y="414.60" width="28.80" height="48.00" fill="#99483f" stroke="#42201c" stroke-width="0.9"/>
<line x1="497.30" y1="409.40" x2="497.30" y2="414.60" stroke="#555" stroke-width="1"/>
<line x1="496.10" y1="409.40" x2="498.50" y2="409.40" stroke="#555" stroke-width="1"/>
<path d="M497.20,399.60 L497.20,396.33 M497.20,399.60 L500.31,398.59 M497.20,399.60 L499.12,402.24 M497.20,399.60 L495.28,402.24 M497.20,399.60 L494.09,398.59 " stroke="#000" stroke-width="2.32" stroke-linecap="round" fill="none"/>
<text transform="translate(437.84 484.70) scale(1.079 1)" fill="#000"><tspan font-size="10.57" font-weight="bold">Control</tspan></text>
<text transform="translate(486.46 484.70) scale(1.057 1)" fill="#000"><tspan font-size="10.57" font-weight="bold">SCD</tspan></text>
<text transform="translate(401.20 472.38) rotate(-90) scale(1.179 1)" fill="#000"><tspan font-size="11.45" font-weight="bold">PS+ CD235a+ MP/µl</tspan></text>
<line x1="44.40" y1="530.60" x2="44.40" y2="634.60" stroke="#b8b8b8" stroke-width="1"/>
<line x1="41.40" y1="530.90" x2="44.40" y2="530.90" stroke="#b8b8b8" stroke-width="1"/>
<text x="35.80" y="535.21" font-size="9" text-anchor="end" fill="#262626">30</text>
<line x1="41.40" y1="548.18" x2="44.40" y2="548.18" stroke="#b8b8b8" stroke-width="1"/>
<text x="35.80" y="552.49" font-size="9" text-anchor="end" fill="#262626">25</text>
<line x1="41.40" y1="565.46" x2="44.40" y2="565.46" stroke="#b8b8b8" stroke-width="1"/>
<text x="35.80" y="569.77" font-size="9" text-anchor="end" fill="#262626">20</text>
<line x1="41.40" y1="582.74" x2="44.40" y2="582.74" stroke="#b8b8b8" stroke-width="1"/>
<text x="35.80" y="587.05" font-size="9" text-anchor="end" fill="#262626">15</text>
<line x1="41.40" y1="600.02" x2="44.40" y2="600.02" stroke="#b8b8b8" stroke-width="1"/>
<text x="35.80" y="604.33" font-size="9" text-anchor="end" fill="#262626">10</text>
<line x1="41.40" y1="617.30" x2="44.40" y2="617.30" stroke="#b8b8b8" stroke-width="1"/>
<text x="35.80" y="621.61" font-size="9" text-anchor="end" fill="#262626">5</text>
<line x1="41.40" y1="634.58" x2="44.40" y2="634.58" stroke="#b8b8b8" stroke-width="1"/>
<text x="35.80" y="638.88" font-size="9" text-anchor="end" fill="#262626">0</text>
<line x1="44.40" y1="634.60" x2="190.00" y2="634.60" stroke="#b8b8b8" stroke-width="1"/>
<rect x="48.10" y="631.30" width="29.80" height="3.30" fill="url(#gb)" stroke="none" stroke-width="1"/>
<line x1="63.00" y1="630.50" x2="63.00" y2="631.30" stroke="#666" stroke-width="1"/>
<line x1="62.00" y1="630.50" x2="64.00" y2="630.50" stroke="#666" stroke-width="1"/>
<rect x="84.80" y="554.40" width="29.40" height="80.20" fill="url(#gb)" stroke="none" stroke-width="1"/>
<line x1="99.60" y1="538.10" x2="99.60" y2="554.40" stroke="#666" stroke-width="1"/>
<line x1="98.60" y1="538.10" x2="100.60" y2="538.10" stroke="#666" stroke-width="1"/>
<rect x="121.70" y="629.70" width="29.60" height="4.90" fill="url(#gb)" stroke="none" stroke-width="1"/>
<line x1="136.50" y1="629.00" x2="136.50" y2="629.70" stroke="#666" stroke-width="1"/>
<line x1="135.50" y1="629.00" x2="137.50" y2="629.00" stroke="#666" stroke-width="1"/>
<rect x="158.30" y="627.00" width="30.00" height="7.60" fill="url(#gb)" stroke="none" stroke-width="1"/>
<line x1="173.30" y1="624.80" x2="173.30" y2="627.00" stroke="#666" stroke-width="1"/>
<line x1="172.30" y1="624.80" x2="174.30" y2="624.80" stroke="#666" stroke-width="1"/>
<path d="M100.00,528.50 L100.00,526.37 M100.00,528.50 L102.02,527.84 M100.00,528.50 L101.25,530.22 M100.00,528.50 L98.75,530.22 M100.00,528.50 L97.98,527.84 " stroke="#000" stroke-width="1.51" stroke-linecap="round" fill="none"/>
<text transform="translate(47.08 674.30) rotate(-45)" fill="#000"><tspan font-size="11.18" font-weight="bold">none</tspan></text>
<text transform="translate(79.50 677.70) rotate(-45)" fill="#000"><tspan font-size="11.62" font-weight="bold">4N1-1</tspan></text>
<text transform="translate(115.64 677.75) rotate(-45)" fill="#000"><tspan font-size="11.55" font-weight="bold">4N1-2</tspan></text>
<text transform="translate(152.84 677.51) rotate(-45)" fill="#000"><tspan font-size="11.19" font-weight="bold">4NGG</tspan></text>
<text transform="translate(17.20 637.38) rotate(-90) scale(1.111 1)" fill="#000"><tspan font-size="12.17" font-weight="bold">PS+ MP</tspan></text>
<text transform="translate(17.00 580.63) rotate(-90) scale(1.303 1)" fill="#000"><tspan font-size="10.56" font-weight="normal">(per cell)</tspan></text>
<line x1="249.60" y1="526.70" x2="249.60" y2="635.80" stroke="#b8b8b8" stroke-width="1"/>
<line x1="246.60" y1="526.90" x2="249.60" y2="526.90" stroke="#b8b8b8" stroke-width="1"/>
<text x="241.00" y="530.57" font-size="9.2" text-anchor="end" fill="#262626">0,40</text>
<line x1="246.60" y1="554.12" x2="249.60" y2="554.12" stroke="#b8b8b8" stroke-width="1"/>
<text x="241.00" y="557.79" font-size="9.2" text-anchor="end" fill="#262626">0,30</text>
<line x1="246.60" y1="581.34" x2="249.60" y2="581.34" stroke="#b8b8b8" stroke-width="1"/>
<text x="241.00" y="585.01" font-size="9.2" text-anchor="end" fill="#262626">0,20</text>
<line x1="246.60" y1="608.56" x2="249.60" y2="608.56" stroke="#b8b8b8" stroke-width="1"/>
<text x="241.00" y="612.23" font-size="9.2" text-anchor="end" fill="#262626">0,10</text>
<line x1="246.60" y1="635.78" x2="249.60" y2="635.78" stroke="#b8b8b8" stroke-width="1"/>
<text x="241.00" y="639.45" font-size="9.2" text-anchor="end" fill="#262626">0,00</text>
<line x1="249.60" y1="635.80" x2="344.00" y2="635.80" stroke="#b8b8b8" stroke-width="1"/>
<rect x="255.50" y="606.80" width="36.90" height="29.00" fill="url(#gb)" stroke="none" stroke-width="1"/>
<line x1="273.70" y1="599.60" x2="273.70" y2="606.80" stroke="#2a2a2a" stroke-width="1"/>
<line x1="272.60" y1="599.60" x2="274.80" y2="599.60" stroke="#2a2a2a" stroke-width="1"/>
<rect x="302.70" y="566.00" width="37.10" height="69.80" fill="#99483f" stroke="#42201c" stroke-width="0.9"/>
<line x1="321.10" y1="554.90" x2="321.10" y2="566.00" stroke="#2a2a2a" stroke-width="1"/>
<line x1="320.00" y1="554.90" x2="322.20" y2="554.90" stroke="#2a2a2a" stroke-width="1"/>
<path d="M321.30,538.50 L321.30,536.22 M321.30,538.50 L323.47,537.80 M321.30,538.50 L322.64,540.34 M321.30,538.50 L319.96,540.34 M321.30,538.50 L319.13,537.80 " stroke="#000" stroke-width="1.62" stroke-linecap="round" fill="none"/>
<text transform="translate(254.34 661.80) scale(1.094 1)" fill="#000"><tspan font-size="10.43" font-weight="bold">Control</tspan></text>
<text transform="translate(310.27 661.80) scale(1.058 1)" fill="#000"><tspan font-size="10.43" font-weight="bold">SCD</tspan></text>
<text transform="translate(211.25 616.30) rotate(-90) scale(1.000 1)" fill="#000"><tspan font-size="11.81" font-weight="bold">Abs</tspan><tspan font-size="7.32" font-weight="bold"> 575 </tspan><tspan font-size="11.81" font-weight="normal">(RAU)</tspan></text>
<line x1="414.40" y1="528.70" x2="414.40" y2="636.20" stroke="#b8b8b8" stroke-width="1"/>
<line x1="411.40" y1="528.90" x2="414.40" y2="528.90" stroke="#b8b8b8" stroke-width="1"/>
<text x="406.00" y="532.57" font-size="9.2" text-anchor="end" fill="#262626">0,20</text>
<line x1="411.40" y1="555.73" x2="414.40" y2="555.73" stroke="#b8b8b8" stroke-width="1"/>
<text x="406.00" y="559.40" font-size="9.2" text-anchor="end" fill="#262626">0,15</text>
<line x1="411.40" y1="582.56" x2="414.40" y2="582.56" stroke="#b8b8b8" stroke-width="1"/>
<text x="406.00" y="586.23" font-size="9.2" text-anchor="end" fill="#262626">0,10</text>
<line x1="411.40" y1="609.39" x2="414.40" y2="609.39" stroke="#b8b8b8" stroke-width="1"/>
<text x="406.00" y="613.06" font-size="9.2" text-anchor="end" fill="#262626">0,05</text>
<line x1="411.40" y1="636.22" x2="414.40" y2="636.22" stroke="#b8b8b8" stroke-width="1"/>
<text x="406.00" y="639.89" font-size="9.2" text-anchor="end" fill="#262626">0,00</text>
<line x1="414.40" y1="636.20" x2="510.00" y2="636.20" stroke="#b8b8b8" stroke-width="1"/>
<rect x="421.00" y="613.30" width="37.50" height="22.90" fill="url(#gb)" stroke="none" stroke-width="1"/>
<line x1="439.40" y1="611.00" x2="439.40" y2="613.30" stroke="#2a2a2a" stroke-width="1"/>
<line x1="438.30" y1="611.00" x2="440.50" y2="611.00" stroke="#2a2a2a" stroke-width="1"/>
<rect x="469.80" y="573.40" width="38.00" height="62.80" fill="#99483f" stroke="#42201c" stroke-width="0.9"/>
<line x1="488.50" y1="567.60" x2="488.50" y2="573.50" stroke="#2a2a2a" stroke-width="1"/>
<line x1="487.40" y1="567.60" x2="489.60" y2="567.60" stroke="#2a2a2a" stroke-width="1"/>
<path d="M489.00,553.20 L489.00,550.92 M489.00,553.20 L491.17,552.50 M489.00,553.20 L490.34,555.04 M489.00,553.20 L487.66,555.04 M489.00,553.20 L486.83,552.50 " stroke="#000" stroke-width="1.62" stroke-linecap="round" fill="none"/>
<text transform="translate(420.64 661.80) scale(1.091 1)" fill="#000"><tspan font-size="10.43" font-weight="bold">Control</tspan></text>
<text transform="translate(477.87 661.80) scale(1.058 1)" fill="#000"><tspan font-size="10.43" font-weight="bold">SCD</tspan></text>
<text transform="translate(381.25 617.19) rotate(-90) scale(0.932 1)" fill="#000"><tspan font-size="12.32" font-weight="bold">Abs</tspan><tspan font-size="7.64" font-weight="bold"> 398 </tspan><tspan font-size="12.32" font-weight="normal">(RAU)</tspan></text>
</svg>
</body></html>
